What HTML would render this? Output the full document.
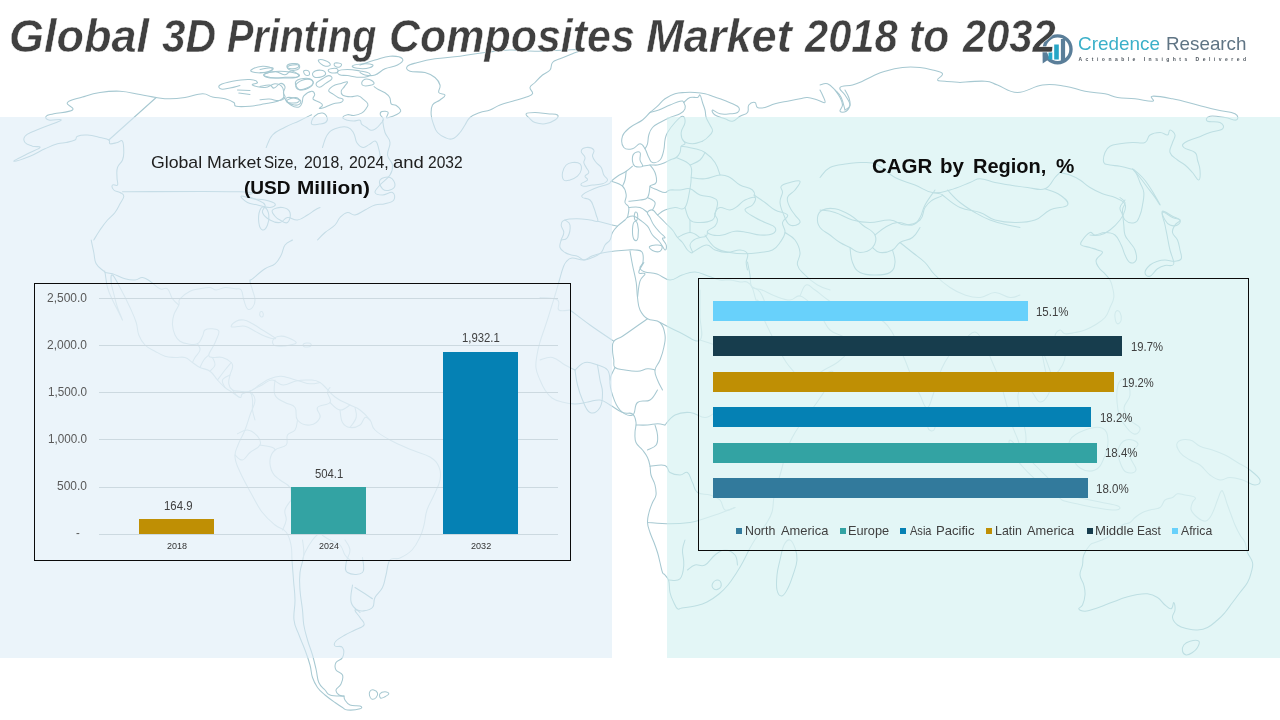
<!DOCTYPE html>
<html lang="en">
<head>
<meta charset="utf-8">
<title>Global 3D Printing Composites Market 2018 to 2032</title>
<style>
  html, body { margin: 0; padding: 0; }
  body {
    width: 1280px; height: 720px; overflow: hidden; position: relative;
    background: #ffffff;
    font-family: "Liberation Sans", sans-serif;
  }
  .abs { position: absolute; }
  .g { margin: 0; padding: 0; font: inherit; }
  .t { position: absolute; white-space: nowrap; line-height: 1; transform-origin: 0 0; display: block; }
  #panelL { left: 0; top: 117px; width: 612.3px; height: 541.3px; background: rgba(221,236,246,0.58); }
  #panelR { left: 667.2px; top: 117px; width: 613px; height: 541.3px; background: rgba(207,240,240,0.58); }
  #map { left: 0; top: 0; width: 1280px; height: 720px; }
  .ttl { -webkit-text-stroke: 0.5px #ffffff; }
  .box { border: 1.4px solid #0a0a0a; box-sizing: border-box; }
  #boxL { left: 33.8px; top: 282.6px; width: 537.2px; height: 278.2px; background: rgba(235,244,250,0.5); }
  #boxR { left: 697.8px; top: 277.8px; width: 551.2px; height: 272.8px; background: rgba(227,246,246,0.5); }
  .grid { position: absolute; left: 99px; width: 459px; height: 1px; background: #ccd9e0; }
  .bar { position: absolute; }
  .lm { position: absolute; width: 6px; height: 6px; top: 528px; }
</style>
</head>
<body>
  <svg id="map" class="abs" viewBox="0 0 1280 720" fill="none" stroke="#a6c8d1" stroke-width="1.05" stroke-linejoin="round" stroke-linecap="round">
    <path d="M93.8 240 C95.1 237.9 97.1 234.2 100 230 C102.9 225.8 104.3 223.7 107.5 220 C110.7 216.3 112.4 215.9 115 212.5 C117.6 209.1 118.2 207.2 120 203.8 C121.8 200.4 123.8 198.6 123.8 196.2 C123.8 193.8 122.1 193.8 120 192.5 C117.9 191.2 115.4 191.6 113.8 190 C112.2 188.4 111.7 186.1 112.5 185 C113.3 183.9 116.6 186.6 117.5 185 C118.4 183.4 117 181.2 117 177.5 C117 173.8 116.3 171.2 117.5 167.5 C118.7 163.8 121.2 163.2 122.5 160 C123.8 156.8 123.8 156.4 123.8 152.5 C123.8 148.6 123.8 143.3 122.5 141.2 C121.2 139.1 120.1 142 117.5 142.5 C114.9 143 111.8 144.3 110 143.8 C108.2 143.3 110.9 141.3 108.8 140 C106.7 138.7 104.5 138.6 100 137.5 C95.5 136.4 92.2 135.3 87.5 135 C82.8 134.7 80.1 135.1 77.5 136.2 C74.9 137.2 77.4 138.7 75 140 C72.6 141.3 69.9 141.7 66.2 142.5 C62.5 143.3 62 142.5 57.5 143.8 C53 145.1 50.8 146.2 45 148.8 C39.2 151.4 36.6 153.6 30 156.2 C23.4 158.8 14.3 161.7 13.8 161.2 C13.3 160.7 22 156.7 27.5 153.8 C33 150.9 39 149.1 40 147.5 C41 145.9 35.6 147.2 32.5 146.2 C29.4 145.1 26.6 144.6 25 142.5 C23.4 140.4 23.2 138.6 25 136.2 C26.8 133.8 29.3 133.3 33.8 131.2 C38.3 129.1 40.4 128.6 46.2 126.2 C52 123.8 60.7 121.3 61.2 120 C61.7 118.7 51.9 120.8 48.8 120 C45.6 119.2 45.2 117.5 46.2 116.2 C47.2 114.9 48.3 115.1 53.8 113.8 C59.3 112.5 69.6 112.4 72.5 110 C75.4 107.6 65.4 105.2 67.5 102.5 C69.6 99.8 75.7 99.1 82.5 97 C89.3 94.9 92.1 93.7 100 92.5 C107.9 91.3 111.6 90.8 120 91.2 C128.4 91.6 132.4 93.2 140 94.5 C147.6 95.8 149.9 96.6 156.2 97.5 C162.5 98.4 164 98.8 170 98.8 C176 98.8 178.2 98.5 185 97.5 C191.8 96.5 196.7 93.9 202.5 93.8 C208.3 93.7 207.8 96 212.5 97 C217.2 98 220.5 97.6 225 98.8 C229.5 100 231.4 100.9 233.8 102.5 C236.2 104.1 232.8 105.4 236.2 106.2 C239.6 107 244 106.7 250 106.2 C256 105.7 259.2 104.8 265 103.8 C270.8 102.8 273.6 102.5 277.5 101.2 C281.4 99.9 282.5 98.3 283.8 97.5"/>
    <path d="M156.2 97.5 L108.8 140"/>
    <path d="M122.5 191.8 C147.2 191.8 213.8 190.9 240 191.8 C266.2 192.7 243.8 194.5 247.5 196.2 C251.2 197.9 253.8 198.2 257.5 200 C261.2 201.8 263.9 202.4 265 205 C266.1 207.6 261.4 209.3 262.5 212.5 C263.6 215.7 266.3 217.9 270 220 C273.7 222.1 276.3 223 280 222.5 C283.7 222 283.8 218 287.5 217.5 C291.2 217 293.3 220.5 297.5 220 C301.7 219.5 303.8 217.1 307.5 215 C311.2 212.9 312.4 211.6 315 210 C317.6 208.4 318.9 208 320 207.5"/>
    <path d="M241.2 196.2 C242.2 195.4 247.5 198 252.5 198.8 C257.5 199.6 260.3 198.9 265 200 C269.7 201.1 273.9 202.2 275 203.8 C276.1 205.4 273.7 207.2 270 207.5 C266.3 207.8 262.2 206.1 257.5 205 C252.8 203.9 250.9 204.3 247.5 202.5 C244.1 200.7 240.1 197 241.2 196.2 Z"/>
    <path d="M260 210 C261.3 206.8 263.2 206.4 265 207.5 C266.8 208.6 268.3 211.3 268.8 215 C269.3 218.7 268.8 221.8 267.5 225 C266.2 228.2 264.3 230.5 262.5 230 C260.7 229.5 259.3 226.7 258.8 222.5 C258.3 218.3 258.7 213.2 260 210 Z"/>
    <path d="M272.5 210 C274.1 208.2 278.8 207 282.5 207.5 C286.2 208 288.9 209.3 290 212.5 C291.1 215.7 289.6 220.9 287.5 222.5 C285.4 224.1 282.6 221.3 280 220 C277.4 218.7 276.6 218.3 275 216.2 C273.4 214.1 270.9 211.8 272.5 210 Z"/>
    <path d="M251.2 70 C252.8 68.7 258 66.5 262.5 66.2 C267 65.9 272 67.5 272.5 68.8 C273 70.1 268.7 71.7 265 72.5 C261.3 73.3 257.9 73 255 72.5 C252.1 72 249.6 71.3 251.2 70 Z"/>
    <path d="M287.5 65 C289.1 63.7 295.1 63 297.5 63.8 C299.9 64.6 300.4 67.5 298.8 68.8 C297.2 70.1 292.4 70.8 290 70 C287.6 69.2 285.9 66.3 287.5 65 Z"/>
    <path d="M265 73.8 C267.6 72.5 273.2 71.2 280 71.2 C286.8 71.2 294.1 72.5 297.5 73.8 C300.9 75.1 299.9 76.6 296.2 77.5 C292.5 78.4 286 78 280 78 C274 78 270.6 78.4 267.5 77.5 C264.4 76.6 262.4 75.1 265 73.8 Z"/>
    <path d="M283.8 97.5 C283.5 95.4 284.3 90.4 282.5 87.5 C280.7 84.6 278.7 83.8 275 83.8 C271.3 83.8 269.7 87.2 265 87.5 C260.3 87.8 254.1 86 252.5 85 C250.9 84 258 83.7 257.5 82.5 C257 81.3 255.2 79.8 250 79.5 C244.8 79.2 238.8 80 232.5 81.2 C226.2 82.4 222.4 83.4 220 85 C217.6 86.6 219.1 88.4 221.2 89 C223.3 89.6 226.1 88.7 230 88 C233.9 87.3 237.9 86 240 85.5"/>
    <path d="M237.5 90 L250 90.5"/>
    <path d="M238.8 93 L250 94.5"/>
    <path d="M297.5 80 C300.4 78.4 306.9 77.8 310 78.8 C313.1 79.8 314.1 82.6 312.5 85 C310.9 87.4 305.9 89.7 302.5 90 C299.1 90.3 297.2 88.3 296.2 86.2 C295.1 84.1 294.6 81.6 297.5 80 Z"/>
    <path d="M287.5 97.5 C290.1 97 297.9 98.4 300 100 C302.1 101.6 300.1 104.5 297.5 105 C294.9 105.5 289.6 104.1 287.5 102.5 C285.4 100.9 284.9 98 287.5 97.5 Z"/>
    <path d="M91.2 240 C91.7 242.6 92.8 247.5 93.8 252.5 C94.8 257.5 94.1 259.9 96.2 263.8 C98.3 267.7 102 269.4 103.8 271.2 C105.6 273 104.2 269.1 105 272.5 C105.8 275.9 105.9 281.7 107.5 287.5 C109.1 293.3 110.1 294.8 112.5 300 C114.9 305.2 116.7 308.3 118.8 312.5 C120.9 316.7 122.8 321.1 122.5 320 C122.2 318.9 119.3 313 117.5 307.5 C115.7 302 115.1 299.1 113.8 293.8 C112.5 288.6 111.5 286.4 111.2 282.5 C110.9 278.6 110.7 273.9 112.5 275 C114.3 276.1 116.3 280.7 120 287.5 C123.7 294.3 126.6 300.1 130 307.5 C133.4 314.9 134.4 316.7 136.2 322.5 C138 328.3 137 330.3 138.8 335 C140.6 339.7 141.6 341.6 145 345 C148.4 348.4 150.8 348.8 155 351.2 C159.2 353.6 160.8 354.9 165 356.2 C169.2 357.5 170.8 357.2 175 357.5 C179.2 357.8 181.3 356.4 185 357.5 C188.7 358.6 189.3 360.4 192.5 362.5 C195.7 364.6 196.3 365.7 200 367.5 C203.7 369.3 206.3 368.6 210 371.2 C213.7 373.8 214.3 376.6 217.5 380 C220.7 383.4 221.8 384.9 225 387.5 C228.2 390.1 229.3 390.4 232.5 392.5 C235.7 394.6 237.9 397.2 240 397.5 C242.1 397.8 240.4 394.9 242.5 393.8 C244.6 392.8 247.9 391.2 250 392.5 C252.1 393.8 252 396.3 252.5 400 C253 403.7 252 405.8 252.5 410 C253 414.2 254.5 417.9 255 420"/>
    <path d="M105 272.5 C106.6 272.8 108.3 272.5 112.5 273.8 C116.7 275.1 120.3 277.5 125 278.8 C129.7 280.1 131.3 280.3 135 280 C138.7 279.7 139.3 277.2 142.5 277.5 C145.7 277.8 146.3 278.8 150 281.2 C153.7 283.6 156.3 287.2 160 288.8 C163.7 290.4 164.9 286.7 167.5 288.8 C170.1 290.9 170.1 295.4 172.5 298.8 C174.9 302.2 177.5 303.7 178.8 305"/>
    <path d="M292.5 240 C290.9 241.1 287.4 241.8 285 245 C282.6 248.2 283.3 251.1 281.2 255 C279.1 258.9 278.4 260.9 275 263.8 C271.6 266.7 269.7 265.7 265 268.8 C260.3 271.9 255.7 276.2 252.5 278.8 C249.3 281.4 250 278.8 250 281.2 C250 283.6 251.4 286.1 252.5 290 C253.6 293.9 255 296.3 255 300 C255 303.7 254.1 305.7 252.5 307.5 C250.9 309.3 249.3 310.4 247.5 308.8 C245.7 307.2 245.1 303.9 243.8 300 C242.5 296.1 243 292.4 241.2 290 C239.4 287.6 238.4 289.3 235 288.8 C231.6 288.3 228.9 287.2 225 287.5 C221.1 287.8 219.3 290 216.2 290 C213 290 213.4 287.8 210 287.5 C206.6 287.2 204.2 288 200 288.8 C195.8 289.6 194.2 289.1 190 291.2 C185.8 293.3 182.4 295.9 180 298.8 C177.6 301.7 180.1 301.6 178.8 305 C177.5 308.4 175.1 310.8 173.8 315 C172.5 319.2 172.2 320.8 172.5 325 C172.8 329.2 173.4 331.6 175 335 C176.6 338.4 177.4 339.4 180 341.2 C182.6 343 183.8 343.3 187.5 343.8 C191.2 344.3 194.3 345.4 197.5 343.8 C200.7 342.2 200.9 339.1 202.5 336.2 C204.1 333.3 202.9 331.6 205 330 C207.1 328.4 209.6 328.5 212.5 328.8 C215.4 329.1 218 328.8 218.8 331.2 C219.6 333.6 217.5 336.6 216.2 340 C214.9 343.4 214.1 344.4 212.5 347.5 C210.9 350.6 208.8 352.9 208.8 355 C208.8 357.1 209.6 357 212.5 357.5 C215.4 358 218.6 356.4 222.5 357.5 C226.4 358.6 229.1 360.4 231.2 362.5 C233.3 364.6 232.8 364.9 232.5 367.5 C232.2 370.1 230.8 371.6 230 375 C229.2 378.4 228.3 380.7 228.8 383.8 C229.3 386.9 230.1 388.4 232.5 390 C234.9 391.6 236.3 390.9 240 391.2 C243.7 391.5 245.8 392.6 250 391.2 C254.2 389.8 255.8 387.1 260 384.5 C264.2 381.9 265.8 380.5 270 378.8 C274.2 377.1 276.3 376.5 280 376.2 C283.7 375.9 283.3 376.4 287.5 377.5 C291.7 378.6 295.3 379.9 300 381.2 C304.7 382.5 305.8 383.5 310 383.8 C314.2 384.1 317.9 382.8 320 382.5"/>
    <path d="M231.2 326.2 C231.5 325 233.6 322.5 236.2 321.2 C238.8 319.9 240.4 319.5 243.8 320 C247.2 320.5 248.6 321.7 252.5 323.8 C256.4 325.9 258.3 327.4 262.5 330 C266.7 332.6 269.9 334.4 272.5 336.2 C275.1 338 276.6 338.8 275 338.8 C273.4 338.8 269.2 337.8 265 336.2 C260.8 334.6 259.2 333.3 255 331.2 C250.8 329.1 249.2 327.1 245 326.2 C240.8 325.3 237.9 327 235 327 C232.1 327 230.9 327.4 231.2 326.2 Z"/>
    <path d="M273.8 338.8 C275.1 337 277.1 336.5 280 336.2 C282.9 335.9 284.1 336.2 287.5 337.5 C290.9 338.8 295.7 340.9 296.2 342.5 C296.7 344.1 293.1 344.2 290 345 C286.9 345.8 284.6 346.2 281.2 346.2 C277.8 346.2 275.4 346.6 273.8 345 C272.2 343.4 272.5 340.6 273.8 338.8 Z"/>
    <path d="M303.8 343.8 C305 343 308.6 342.7 310 343.2 C311.4 343.7 311.7 345.4 310.5 346.2 C309.3 347 305.6 347.3 304.2 346.8 C302.8 346.3 302.6 344.6 303.8 343.8 Z"/>
    <path d="M260 312.5 C260.4 311.6 261.9 311.2 262.5 312 C263.1 312.8 263.4 315.3 263 316.2 C262.6 317.1 261.1 317.3 260.5 316.5 C259.9 315.7 259.6 313.4 260 312.5 Z"/>
    <path d="M197.5 343.8 C198 345.1 200.5 347.1 200 350 C199.5 352.9 196.6 354.9 195 357.5 C193.4 360.1 193 361.4 192.5 362.5"/>
    <path d="M208.8 355 C207.8 356.1 205.6 357.4 203.8 360 C202 362.6 200.8 365.9 200 367.5"/>
    <path d="M212.5 357.5 C213 359.1 215.5 362.1 215 365 C214.5 367.9 211.1 369.9 210 371.2"/>
    <path d="M231.2 362.5 C229.9 364.1 227.9 366.3 225 370 C222.1 373.7 219.1 377.9 217.5 380"/>
    <path d="M230 375 C228.4 376.1 223.6 377.4 222.5 380 C221.4 382.6 224.5 385.9 225 387.5"/>
    <path d="M232.5 390 C233.3 391.1 234.6 393.4 236.2 395 C237.8 396.6 239.2 397 240 397.5"/>
    <path d="M250 391 C252.5 389.7 257.4 387.3 262 385 C266.6 382.7 267.6 380 272 380 C276.4 380 278 384.8 283 385 C288 385.2 290.8 382.1 296 381 C301.2 379.9 303 379.7 308 380 C313 380.3 314.3 378.9 320 382.5 C325.7 386.1 328.7 392.3 335 397 C341.3 401.7 344.8 402.3 350 405 C355.2 407.7 355.8 406.9 360 410 C364.2 413.1 366.9 415.8 370 420 C373.1 424.2 370.8 425.8 375 430 C379.2 434.2 382.2 435.8 390 440 C397.8 444.2 403.6 446.4 412 450 C420.4 453.6 424.3 453.4 430 457 C435.7 460.6 436.9 462.2 439 467 C441.1 471.8 441.1 474.1 440 480 C438.9 485.9 436.7 488.7 434 495 C431.3 501.3 429.1 503.7 427 510 C424.9 516.3 425.5 519.3 424 525 C422.5 530.7 422.5 531.8 420 537 C417.5 542.2 416.2 545.6 412 550 C407.8 554.4 404.6 555.9 400 558 C395.4 560.1 392.9 556.4 390 560 C387.1 563.6 387.6 569.2 386 575 C384.4 580.8 384.8 582.8 382.5 587.5 C380.2 592.2 377.1 593.3 375 597.5 C372.9 601.7 375.1 604.7 372.5 607.5 C369.9 610.3 366.2 610.5 362.5 611 C358.8 611.5 355.5 608.6 355 610 C354.5 611.4 358.1 614.4 360 617.5 C361.9 620.6 365.1 622.4 364 625 C362.9 627.6 359 627.9 355 630 C351 632.1 349 632.7 345 635 C341 637.3 338.1 638.7 336 641 C333.9 643.3 333.6 644.6 335 646 C336.4 647.4 340.9 645.1 342.5 647.5 C344.1 649.9 343.9 654.4 342.5 657.5 C341.1 660.6 337.4 659.9 336 662.5 C334.6 665.1 334.6 667.4 336 670 C337.4 672.6 341.4 672.1 342.5 675 C343.6 677.9 342.4 680.9 341 684 C339.6 687.1 336.4 687.7 336 690 C335.6 692.3 337.3 693.7 339 695 C340.7 696.3 342.9 695.8 344 696"/>
    <path d="M250 391 C251.1 392.9 255 395 255 400 C255 405 252.1 408.7 250 415 C247.9 421.3 247.5 423.7 245 430 C242.5 436.3 240.1 439.3 238 445 C235.9 450.7 234.6 451.3 235 457 C235.4 462.7 236.4 464 240 472 C243.6 480 247.4 486.6 252 495 C256.6 503.4 257.2 505.7 262 512 C266.8 518.3 270 520.8 275 525 C280 529.2 282.6 527.8 286 532 C289.4 536.2 289.7 539.1 291 545 C292.3 550.9 291.5 552.6 292 560 C292.5 567.4 292.9 571.6 293.5 580 C294.1 588.4 294.9 591.6 295 600 C295.1 608.4 293.2 612.6 294 620 C294.8 627.4 296.7 628.7 299 635 C301.3 641.3 302.7 643.7 305 650 C307.3 656.3 308.4 659.2 310 665 C311.6 670.8 310.9 672.8 312.5 677.5 C314.1 682.2 314.9 683.8 317.5 687.5 C320.1 691.2 321.3 691.9 325 695 C328.7 698.1 331.3 699.9 335 702.5 C338.7 705.1 339.9 705.9 342.5 707.5 C345.1 709.1 343.8 709.7 347.5 710 C351.2 710.3 357.4 709.6 360 708.8 C362.6 708 362.1 706.8 360 706 C357.9 705.2 353.1 706.3 350 705 C346.9 703.7 346.3 701.9 345 700 C343.7 698.1 344.2 696.8 344 696"/>
    <path d="M302.5 540 C302.8 543.1 304.3 548.2 303.8 555 C303.3 561.8 300.8 565.1 300 572.5 C299.2 579.9 299.5 582.1 300 590 C300.5 597.9 301.7 602.6 302.5 610 C303.3 617.4 302.8 618.7 303.8 625 C304.9 631.3 305.7 633.7 307.5 640 C309.3 646.3 310.7 648.7 312.5 655 C314.3 661.3 314.9 664.2 316.2 670 C317.5 675.8 317 678.3 318.8 682.5 C320.6 686.7 322.6 687.4 325 690 C327.4 692.6 326.1 693.7 330 695 C333.9 696.3 340.9 695.9 343.8 696.2"/>
    <path d="M362.5 557.5 C362.5 560.6 365.6 569.4 362.5 572.5 C359.4 575.6 350.9 574.6 347.5 572.5 C344.1 570.4 345.7 567.2 346.2 562.5 C346.7 557.8 350.3 554.7 350 550 C349.7 545.3 346.1 542.1 345 540"/>
    <path d="M352.5 585 C352.2 588.7 349.6 596.7 351.2 602.5 C352.8 608.3 358.2 610.4 360 612.5"/>
    <path d="M355 587.5 C357.1 588.8 361.3 591.4 365 593.8 C368.7 596.2 370.9 597.8 372.5 598.8"/>
    <path d="M370 691.2 C370.9 690 372.2 689.6 373.8 690 C375.4 690.4 377 691.4 377.5 693 C378 694.6 377.4 696.2 376.2 697.5 C375 698.8 373.4 699.6 372 699.2 C370.6 698.8 369.9 697.2 369.5 695.5 C369.1 693.8 369.1 692.4 370 691.2 Z"/>
    <path d="M380 693.8 C380.9 692.5 383.2 691.8 385 691.8 C386.8 691.8 388.9 692.7 388.8 693.8 C388.7 694.9 386.2 696.1 384.5 697 C382.8 697.9 381.4 698.7 380.5 698 C379.6 697.3 379.1 695.1 380 693.8 Z"/>
    <path d="M275 380 C275 383.1 272.9 390.3 275 395 C277.1 399.7 280.8 399.9 285 402.5 C289.2 405.1 292.4 403.8 295 407.5 C297.6 411.2 294.4 416.3 297.5 420 C300.6 423.7 305.3 425.5 310 425 C314.7 424.5 318.4 421.2 320 417.5 C321.6 413.8 315.4 410.6 317.5 407.5 C319.6 404.4 327.9 405.6 330 402.5 C332.1 399.4 327.5 395.6 327.5 392.5 C327.5 389.4 329.5 388.6 330 387.5"/>
    <path d="M330 402.5 C332.1 404.1 335.8 409.5 340 410 C344.2 410.5 347.9 406.1 350 405"/>
    <path d="M340 410 C340.5 412.6 340.4 418.8 342.5 422.5 C344.6 426.2 346.3 427 350 427.5 C353.7 428 356.9 427.1 360 425 C363.1 422.9 362.9 418.6 365 417.5 C367.1 416.4 368.9 419.5 370 420"/>
    <path d="M355 407.5 C355.3 409.6 357.2 413.3 356.2 417.5 C355.1 421.7 351.3 425.4 350 427.5"/>
    <path d="M297.5 420 C297 422.1 297.1 426.9 295 430 C292.9 433.1 289.3 431.9 287.5 435 C285.7 438.1 288.8 441.9 286.2 445 C283.6 448.1 278.4 446.9 275 450 C271.6 453.1 270.5 455.3 270 460 C269.5 464.7 270.4 468.3 272.5 472.5 C274.6 476.7 276.3 476.9 280 480 C283.7 483.1 287.6 483.3 290 487.5 C292.4 491.7 290.9 497.4 291.2 500"/>
    <path d="M237.5 433.8 C239.6 433 243.3 429.5 247.5 430 C251.7 430.5 254.9 433.1 257.5 436.2 C260.1 439.3 261.6 441.6 260 445 C258.4 448.4 253.7 449.4 250 452.5 C246.3 455.6 245.7 459.5 242.5 460 C239.3 460.5 236.6 456.1 235 455"/>
    <path d="M260 445 C262.6 445.5 269.4 446.4 272.5 447.5 C275.6 448.6 274.5 449.5 275 450"/>
    <path d="M291.2 500 C293 501.1 296.1 502.9 300 505 C303.9 507.1 306.3 506.9 310 510 C313.7 513.1 315.4 515.3 317.5 520 C319.6 524.7 317.4 528.3 320 532.5 C322.6 536.7 325.8 537.4 330 540 C334.2 542.6 336.9 541.9 340 545 C343.1 548.1 342.9 551.9 345 555 C347.1 558.1 348.9 559 350 560"/>
    <path d="M282.5 530 C283.3 527.9 285.7 524.2 286.2 520 C286.7 515.8 283.9 514.2 285 510 C286.1 505.8 289.9 502.1 291.2 500"/>
    <path d="M320 532.5 C318.4 534.1 315.6 535.8 312.5 540 C309.4 544.2 307.1 548.3 305 552.5 C302.9 556.7 303 558.4 302.5 560"/>
    <path d="M407.5 66.2 C405.9 68 406.3 69.9 410 71.2 C413.7 72.5 419.8 71.2 425 72.5 C430.2 73.8 431.9 74.9 435 77.5 C438.1 80.1 439.2 81.8 440 85 C440.8 88.2 437.8 90.4 438.8 92.5 C439.9 94.6 444.7 93.4 445 95 C445.3 96.6 442.6 97.9 440 100 C437.4 102.1 434.3 101.8 432.5 105 C430.7 108.2 430.9 110.8 431.2 115 C431.5 119.2 432.5 121.3 433.8 125 C435.1 128.7 435.1 129.9 437.5 132.5 C439.9 135.1 441.9 136.2 445 137.5 C448.1 138.8 449.4 139.9 452.5 138.8 C455.6 137.8 457.4 135.4 460 132.5 C462.6 129.6 462.9 128.2 465 125 C467.1 121.8 466.9 120.1 470 117.5 C473.1 114.9 475.8 114.1 480 112.5 C484.2 110.9 485.8 111.6 490 110 C494.2 108.4 495.3 106.8 500 105 C504.7 103.2 507.2 102.8 512.5 101.2 C517.8 99.6 520.8 99.1 525 97.5 C529.2 95.9 531.5 95.9 532.5 93.8 C533.5 91.7 529.5 89.9 530 87.5 C530.5 85.1 532.4 85.1 535 82.5 C537.6 79.9 539.4 77.6 542.5 75 C545.6 72.4 547.9 72.6 550 70 C552.1 67.4 550.4 64.9 552.5 62.5 C554.6 60.1 555.8 60.6 560 58.8 C564.2 57 568.3 55.6 572.5 53.8 C576.7 52 581.6 50.8 580 50 C578.4 49.2 574.5 49.7 565 50 C555.5 50.3 546.5 51.2 535 51.2 C523.5 51.2 520.5 49.7 510 50 C499.5 50.3 495.5 51.2 485 52.5 C474.5 53.8 470.5 54.9 460 56.2 C449.5 57.5 443.9 57.5 435 58.8 C426.1 60.1 423.3 60.9 417.5 62.5 C411.7 64.1 409.1 64.4 407.5 66.2 Z"/>
    <path d="M526.2 113.8 C527.2 112.5 530.5 112.5 535 112.5 C539.5 112.5 542.8 113.3 547.5 113.8 C552.2 114.3 555.9 113.7 557.5 115 C559.1 116.3 557.6 118.2 555 120 C552.4 121.8 549.2 123.3 545 123.8 C540.8 124.3 538.1 123.5 535 122.5 C531.9 121.5 531.8 120.6 530 118.8 C528.2 117 525.2 115.1 526.2 113.8 Z"/>
    <path d="M360 65 C363.1 64 368.7 61.8 375 60 C381.3 58.2 384.2 56.5 390 56.2 C395.8 55.9 400.9 57 402.5 58.8 C404.1 60.6 401.2 62.9 397.5 65 C393.8 67.1 389.7 66.7 385 68.8 C380.3 70.9 379.2 73.7 375 75 C370.8 76.3 368.1 75.5 365 75 C361.9 74.5 361.1 73 360 72.5"/>
    <path d="M260 69.4 C262.6 69.1 270.5 67.3 272.5 67.8 C274.5 68.3 272 70.7 269.4 71.7 C266.8 72.7 262 72.3 260 72.5"/>
    <path d="M288.1 66.2 C289.7 65.4 295.5 64.4 297.5 64.7 C299.5 65 299.1 67 297.5 67.8 C295.9 68.6 291.7 68.9 289.7 68.6 C287.7 68.3 286.5 67 288.1 66.2 Z"/>
    <path d="M264.7 74.1 C266.7 73.1 271.3 71.6 275.6 71.7 C279.9 71.8 281.7 75 285 74.8 C288.3 74.6 288.4 70.9 291.2 70.9 C294 70.9 297.3 73.5 298.3 74.8 C299.3 76.1 298.7 76.7 295.9 77.2 C293.1 77.7 289.3 77 285 77.2 C280.7 77.4 279.5 78.2 275.6 78 C271.7 77.8 268.5 77.2 266.2 76.4 C263.9 75.6 262.7 75.1 264.7 74.1 Z"/>
    <path d="M260 86.6 C262 86.3 266.4 84.7 269.4 85 C272.4 85.3 271.8 88.4 274.1 88.1 C276.4 87.8 278 83.7 280.3 83.4 C282.6 83.1 284.3 84.6 285 86.6 C285.7 88.6 283.4 90.5 283.4 92.8 C283.4 95.1 286 95.9 285 97.5 C284 99.1 282.1 100.3 278.8 100.6 C275.5 100.9 273.3 99.3 269.4 99.1 C265.5 98.9 262 99.7 260 99.8"/>
    <path d="M286.6 100.6 C287.6 99.4 293.3 97.3 295.9 97.5 C298.5 97.7 300.1 100.2 299.1 101.4 C298.1 102.6 293.8 103.2 291.2 103 C288.6 102.8 285.6 101.8 286.6 100.6 Z"/>
    <path d="M303.8 70.9 C304.5 70.1 307.3 70.1 308.4 70.9 C309.5 71.7 309.9 74 309.2 74.8 C308.5 75.6 306.4 75.6 305.3 74.8 C304.2 74 303.1 71.7 303.8 70.9 Z"/>
    <path d="M313.1 72.5 C314.4 71 318.3 70 320.9 70.2 C323.5 70.4 325.3 72 325.6 73.3 C325.9 74.6 324.8 75.6 322.5 76.4 C320.2 77.2 316.7 78 314.7 77.2 C312.7 76.4 311.8 74 313.1 72.5 Z"/>
    <path d="M328.8 69.4 C330.1 68.6 334.8 67.9 336.6 68.6 C338.4 69.3 338.6 71.7 337.3 72.5 C336 73.3 332.1 73.2 330.3 72.5 C328.5 71.8 327.5 70.2 328.8 69.4 Z"/>
    <path d="M318.6 60 C319.6 59.3 323.1 59.8 325.6 60.8 C328.1 61.8 330.3 63.6 330.3 64.7 C330.3 65.8 327.6 66.4 325.6 66.2 C323.6 66 322.4 65.2 320.9 63.9 C319.4 62.6 317.6 60.7 318.6 60 Z"/>
    <path d="M335 63.1 C336.3 62.6 340.2 63.1 341.2 63.9 C342.2 64.7 341 66.5 339.7 67 C338.4 67.5 336 67 335 66.2 C334 65.4 333.7 63.6 335 63.1 Z"/>
    <path d="M295.9 85 C296.6 83 299.2 81.5 302.2 80.3 C305.2 79.1 307.7 78.8 310 79.5 C312.3 80.2 313.8 81.6 313.1 83.4 C312.4 85.2 309.8 86.8 306.9 88.1 C304 89.4 301.4 90.4 299.1 89.7 C296.8 89 295.2 87 295.9 85 Z"/>
    <path d="M316.2 83.4 C316.9 81.6 319.9 80.4 322.5 78.8 C325.1 77.2 326.8 75.6 328.8 75.6 C330.8 75.6 332.6 77.2 331.9 78.8 C331.2 80.4 328.2 81.6 325.6 83.4 C323 85.2 321.4 87.3 319.4 87.3 C317.4 87.3 315.5 85.2 316.2 83.4 Z"/>
    <path d="M338.1 70.9 C339.7 69.8 342.9 69.4 347.5 69.4 C352.1 69.4 355.4 70.1 360 70.9 C364.6 71.7 367.8 72.1 369.4 73.3 C371 74.5 370.4 75.6 367.8 76.4 C365.2 77.2 361.2 77.4 356.9 77.2 C352.6 77 351.1 76.1 347.5 75.6 C343.9 75.1 341.7 75.8 339.7 74.8 C337.7 73.8 336.5 72 338.1 70.9 Z"/>
    <path d="M352.2 66.2 C352.5 65.2 357.3 64.2 361.6 63.9 C365.9 63.6 370.9 63.9 372.5 64.7 C374.1 65.5 372 67 369.4 67.8 C366.8 68.6 363.6 68.9 360 68.6 C356.4 68.3 351.9 67.2 352.2 66.2 Z"/>
    <path d="M363.1 80.3 C364.6 79.1 367.1 78.8 369.4 79.5 C371.7 80.2 374.4 82.1 374.1 83.4 C373.8 84.7 370.3 85.5 367.8 85.8 C365.3 86.1 363.3 86.2 362.3 85 C361.3 83.8 361.6 81.5 363.1 80.3 Z"/>
    <path d="M283.8 97.5 C285.4 99.1 288 103.3 291.2 105.3 C294.4 107.3 296.8 107.6 299.1 106.9 C301.4 106.2 301.2 104.5 302.2 102.2 C303.2 99.9 301.8 98.2 303.8 95.9 C305.8 93.6 309.3 91.5 311.6 91.2 C313.9 90.9 314.4 92.7 314.7 94.4 C315 96.1 312.1 97.5 313.1 99.1 C314.1 100.7 317.4 100.9 319.4 102.2 C321.4 103.5 322.5 104 322.5 105.3 C322.5 106.6 318.7 108.1 319.4 108.4 C320.1 108.7 322.7 107.9 325.6 106.9 C328.5 105.9 330.1 104.8 333.4 103.8 C336.7 102.8 339.2 103.2 341.2 102.2 C343.2 101.2 343.5 100.1 342.8 99.1 C342.1 98.1 340.1 98.5 338.1 97.5 C336.1 96.5 335.4 95.7 333.4 94.4 C331.4 93.1 329.5 92.5 328.8 91.2 C328.1 89.9 329 89.4 330.3 88.1 C331.6 86.8 332.7 86 335 85 C337.3 84 338.6 84.1 341.2 83.4 C343.8 82.7 346.8 81.2 347.5 81.9 C348.2 82.6 345.7 84.6 344.4 86.6 C343.1 88.6 341.5 89.4 341.2 91.2 C340.9 93 340.8 94 342.8 95.2 C344.8 96.4 347.3 96.6 350.6 96.7 C353.9 96.8 355.8 95.4 358.4 95.9 C361 96.4 361.1 97.4 363.1 99.1 C365.1 100.8 367.1 101.8 367.8 103.8 C368.5 105.8 367.5 106.4 366.2 108.4 C364.9 110.4 364.2 111.6 361.6 113.1 C359 114.6 356.8 115.2 353.8 115.5 C350.8 115.8 349.8 114.2 347.5 114.7 C345.2 115.2 342.8 116.6 342.8 117.8 C342.8 119 345.2 119.5 347.5 120.2 C349.8 120.9 351.2 120.9 353.8 120.9 C356.4 120.9 358.4 119.5 360 120.2 C361.6 120.9 360.3 122.6 361.6 124.1 C362.9 125.6 364.2 125.9 366.2 127.2 C368.2 128.5 368.9 130 370.9 130.3 C372.9 130.6 373.6 130.1 375.6 128.8 C377.6 127.5 378.7 126.1 380.3 124.1 C381.9 122.1 383.4 121.4 383.4 119.4 C383.4 117.4 380.6 116.3 380.3 114.7 C380 113.1 380.3 112.1 381.9 111.6 C383.5 111.1 387.1 111 388.1 112.3 C389.1 113.6 385.6 117 386.6 117.8 C387.6 118.6 390.2 117.2 392.8 116.2 C395.4 115.2 397.5 114.4 399.1 113.1 C400.7 111.8 401.3 111.6 400.6 110 C399.9 108.4 397.9 106.6 395.9 105.3 C393.9 104 392.5 105.4 391.2 103.8 C389.9 102.2 391 99.8 389.7 97.5 C388.4 95.2 387.3 94.4 385 92.8 C382.7 91.2 381.1 91 378.8 89.7 C376.5 88.4 375.1 87.3 374.1 86.6"/>
    <path d="M311.6 124.1 C310.6 122.4 312.4 118.5 314.7 116.2 C317 113.9 319.9 112.8 322.5 113.1 C325.1 113.4 326.5 115.8 327.2 117.8 C327.9 119.8 327.2 121.2 325.6 122.5 C324 123.8 322.3 123.8 319.4 124.1 C316.5 124.4 312.6 125.8 311.6 124.1 Z"/>
    <path d="M266.2 147.5 C267.5 144.9 268.6 139.3 272.5 135 C276.4 130.7 279.4 130.2 285 127.2 C290.6 124.2 293.5 123.5 299.1 120.9 C304.7 118.3 309 116 311.6 114.7"/>
    <path d="M322.5 147.5 C323.5 144.9 324.6 138.9 327.2 135 C329.8 131.1 330.7 130.4 335 128.8 C339.3 127.2 343.6 126.2 347.5 127.2 C351.4 128.2 351.8 130.1 353.8 133.4 C355.8 136.7 354.9 139.8 356.9 142.8 C358.9 145.8 360.5 147.2 363.1 147.5 C365.7 147.8 366.8 145.7 369.4 144.4 C372 143.1 373.6 140.2 375.6 141.2 C377.6 142.2 377.8 145.8 378.8 149.1 C379.8 152.4 380 155.3 380.3 156.9"/>
    <path d="M382.5 120 C383 122.6 383.4 127.8 385 132.5 C386.6 137.2 389.5 137.8 390 142.5 C390.5 147.2 387 150.3 387.5 155 C388 159.7 392 160.8 392.5 165 C393 169.2 392.6 170.8 390 175 C387.4 179.2 383.1 181.3 380 185 C376.9 188.7 374.5 190.4 375 192.5 C375.5 194.6 378.8 195 382.5 195 C386.2 195 390.1 191.4 392.5 192.5 C394.9 193.6 395.4 197.6 393.8 200 C392.2 202.4 388.9 202.8 385 203.8 C381.1 204.9 379.2 203.7 375 205 C370.8 206.3 369.2 207.9 365 210 C360.8 212.1 358.7 214.5 355 215 C351.3 215.5 350.6 212 347.5 212.5 C344.4 213 342.6 214.9 340 217.5 C337.4 220.1 338.1 221.8 335 225 C331.9 228.2 328.7 229.3 325 232.5 C321.3 235.7 319.1 238.4 317.5 240"/>
    <path d="M380 180 C381.6 177.6 386.9 176.4 390 177.5 C393.1 178.6 395 182.4 395 185 C395 187.6 392.6 189.2 390 190 C387.4 190.8 384.6 190.9 382.5 188.8 C380.4 186.7 378.4 182.4 380 180 Z"/>
    <path d="M702.5 141.2 C700.4 141.7 696.4 143.8 692.5 143.8 C688.6 143.8 686.2 143.6 683.8 141.2 C681.4 138.8 680.9 136.4 681.2 132.5 C681.5 128.6 684.7 125.9 685 122.5 C685.3 119.1 684.6 116.2 682.5 116.2 C680.4 116.2 678.1 119.1 675 122.5 C671.9 125.9 669.6 128.8 667.5 132.5 C665.4 136.2 665.8 136.3 665 140 C664.2 143.7 664.8 145.8 663.8 150 C662.8 154.2 662.4 157.4 660 160 C657.6 162.6 654.9 163 652.5 162.5 C650.1 162 650.4 160.4 648.8 157.5 C647.2 154.6 646.8 151.7 645 148.8 C643.2 145.9 642.6 143.8 640 143.8 C637.4 143.8 635.9 148 632.5 148.8 C629.1 149.6 625.9 150.1 623.8 147.5 C621.7 144.9 621.2 140.4 622.5 136.2 C623.8 132 625.8 130.9 630 127.5 C634.2 124.1 638.3 123.2 642.5 120 C646.7 116.8 646.9 115.4 650 112.5 C653.1 109.6 654.4 109.1 657.5 106.2 C660.6 103.3 661.3 101.4 665 98.8 C668.7 96.2 670.8 95.1 675 93.8 C679.2 92.5 680.8 92.8 685 92.5 C689.2 92.2 690.8 92.2 695 92.5 C699.2 92.8 701.3 93 705 93.8 C708.7 94.6 709.4 95.2 712.5 96.2 C715.6 97.2 715.8 97.2 720 98.8 C724.2 100.4 728.6 102 732.5 103.8 C736.4 105.6 737.8 105.7 738.8 107.5 C739.8 109.3 739.3 111.2 737.5 112.5 C735.7 113.8 733.7 113.5 730 113.8 C726.3 114.1 723.7 114.6 720 113.8 C716.3 113 713.5 109.7 712.5 110 C711.5 110.3 712.4 113.2 715 115 C717.6 116.8 721.3 117.5 725 118.8 C728.7 120.1 729.4 121.7 732.5 121.2 C735.6 120.7 736.9 118 740 116.2 C743.1 114.4 745.7 114.9 747.5 112.5 C749.3 110.1 747.2 107.1 748.8 105 C750.4 102.9 753.2 102 755 102.5 C756.8 103 755.4 106.5 757.5 107.5 C759.6 108.5 761.3 108.3 765 107.5 C768.7 106.7 770.3 105.1 775 103.8 C779.7 102.5 782.2 102.2 787.5 101.2 C792.8 100.2 795.8 99.6 800 98.8 C804.2 98 803.8 97.2 807.5 97.5 C811.2 97.8 813.8 99 817.5 100 C821.2 101 824 103.5 825 102.5 C826 101.5 823.5 97.6 822.5 95 C821.5 92.4 820.5 91 820 90"/>
    <path d="M835 90 C836 91.6 838.4 94.3 840 97.5 C841.6 100.7 842.5 102.1 842.5 105 C842.5 107.9 839.2 109.9 840 111.2 C840.8 112.5 844.1 112.5 846.2 111.2 C848.3 109.9 849.5 107.9 850 105 C850.5 102.1 849.8 100.7 848.8 97.5 C847.8 94.3 845.8 91.6 845 90"/>
    <path d="M650 112.5 C651.8 112 654.6 111.6 658.8 110 C663 108.4 665.5 106.8 670 105 C674.5 103.2 677.1 101.7 680 101.2 C682.9 100.7 682.8 100.9 683.8 102.5 C684.8 104.1 685.8 106.4 685 108.8 C684.2 111.2 683.1 112 680 113.8 C676.9 115.6 674.2 115.7 670 117.5 C665.8 119.3 663.7 120.4 660 122.5 C656.3 124.6 654.9 124.9 652.5 127.5 C650.1 130.1 649.8 131.6 648.8 135 C647.8 138.4 648.3 140.9 647.5 143.8 C646.7 146.7 645.5 147.8 645 148.8"/>
    <path d="M683.8 102.5 C685.1 101.5 687.1 98.5 690 97.5 C692.9 96.5 695.4 98 697.5 97.5 C699.6 97 699 94 700 95 C701 96 701.5 99.3 702.5 102.5 C703.5 105.7 704.2 106.8 705 110 C705.8 113.2 705.2 114.3 706.2 117.5 C707.2 120.7 708.7 122.1 710 125 C711.3 127.9 713 128.6 712.5 131.2 C712 133.8 709.6 135.4 707.5 137.5 C705.4 139.6 703.5 140.4 702.5 141.2"/>
    <path d="M581.2 151.2 C581.5 149.1 583.6 147.8 586.2 147.5 C588.8 147.2 592.5 148.2 593.8 150 C595.1 151.8 592 153.6 592.5 156.2 C593 158.8 594.4 160.1 596.2 162.5 C598 164.9 599.6 164.9 601.2 167.5 C602.8 170.1 602.5 172.4 603.8 175 C605.1 177.6 607.8 178.2 607.5 180 C607.2 181.8 605.6 182.8 602.5 183.8 C599.4 184.9 596.4 184.5 592.5 185 C588.6 185.5 586.2 186.5 583.8 186.2 C581.4 185.9 580.4 185.1 581.2 183.8 C582 182.5 586.7 181.6 587.5 180 C588.3 178.4 584.7 177.8 585 176.2 C585.3 174.6 588.5 174.3 588.8 172.5 C589.1 170.7 587.2 169.6 586.2 167.5 C585.2 165.4 584.1 164.6 583.8 162.5 C583.5 160.4 585.5 159.9 585 157.5 C584.5 155.1 580.9 153.3 581.2 151.2 Z"/>
    <path d="M562.5 172.5 C563 169.3 564.1 167.1 566.2 165 C568.3 162.9 569.6 162.8 572.5 162.5 C575.4 162.2 578.2 162.2 580 163.8 C581.8 165.4 581.7 167.4 581.2 170 C580.7 172.6 579.9 174.1 577.5 176.2 C575.1 178.3 572.9 179.2 570 180 C567.1 180.8 565.4 181.6 563.8 180 C562.2 178.4 562 175.7 562.5 172.5 Z"/>
    <path d="M633.8 153.8 C632.2 155.6 632.2 158.6 632.5 161.2 C632.8 163.8 632.9 165.1 635 166.2 C637.1 167.2 641.5 167.5 642.5 166.2 C643.5 164.9 640.5 162.9 640 160 C639.5 157.1 641.3 153.8 640 152.5 C638.7 151.2 635.4 152 633.8 153.8 Z"/>
    <path d="M632.5 166.2 C631.2 167.2 629.4 169.1 626.2 171.2 C623.1 173.3 620.6 174.1 617.5 176.2 C614.4 178.3 613 179.6 611.2 181.2 C609.4 182.8 610.9 182.8 608.8 183.8 C606.7 184.9 604.4 185.1 601.2 186.2 C598.1 187.2 597.5 187.2 593.8 188.8 C590.1 190.4 586.2 192 583.8 193.8 C581.4 195.6 581.2 196.2 582.5 197.5 C583.8 198.8 587.6 197.9 590 200 C592.4 202.1 592.5 204.3 593.8 207.5 C595.1 210.7 595.4 212.1 596.2 215 C597 217.9 598.8 220.1 597.5 221.2 C596.2 222.2 594.2 220.5 590 220 C585.8 219.5 582.8 218.8 577.5 218.8 C572.2 218.8 568.4 218.7 565 220 C561.6 221.3 561.5 222.4 561.2 225 C560.9 227.6 563.8 229.3 563.8 232.5 C563.8 235.7 562 236.8 561.2 240 C560.4 243.2 559.2 244.9 560 247.5 C560.8 250.1 562.6 250.9 565 252.5 C567.4 254.1 568.6 254.2 571.2 255 C573.8 255.8 574.9 255.1 577.5 256.2 C580.1 257.2 580.6 259.7 583.8 260 C586.9 260.3 588.8 259.1 592.5 257.5 C596.2 255.9 598.6 255.1 601.2 252.5 C603.8 249.9 603.2 247.6 605 245 C606.8 242.4 608.4 242.6 610 240 C611.6 237.4 610.9 235.4 612.5 232.5 C614.1 229.6 614.9 228.8 617.5 226.2 C620.1 223.6 622.9 221.8 625 220 C627.1 218.2 625.7 218.3 627.5 217.5 C629.3 216.7 631.2 215.7 633.8 216.2 C636.4 216.7 637.1 217.9 640 220 C642.9 222.1 644.9 223 647.5 226.2 C650.1 229.3 649.9 231.6 652.5 235 C655.1 238.4 657.4 239.3 660 242.5 C662.6 245.7 663.7 249.5 665 250 C666.3 250.5 666.7 247.4 666.2 245 C665.7 242.6 662.8 240.4 662.5 238.8 C662.2 237.2 665.5 238.8 665 237.5 C664.5 236.2 662.4 235.1 660 232.5 C657.6 229.9 655.9 228.2 653.8 225 C651.7 221.8 651.3 220.1 650 217.5 C648.7 214.9 647 214.1 647.5 212.5 C648 210.9 650.4 209.5 652.5 210 C654.6 210.5 654.9 212.4 657.5 215 C660.1 217.6 661.9 219.3 665 222.5 C668.1 225.7 669.9 226.8 672.5 230 C675.1 233.2 675.4 234.9 677.5 237.5 C679.6 240.1 680.4 239.9 682.5 242.5 C684.6 245.1 685.4 247.9 687.5 250 C689.6 252.1 692 253.6 692.5 252.5 C693 251.4 689.7 247.6 690 245 C690.3 242.4 691.7 241.6 693.8 240 C695.9 238.4 697.4 238.3 700 237.5 C702.6 236.7 704.6 237.5 706.2 236.2 C707.8 234.9 707.2 232.2 707.5 231.2"/>
    <path d="M642.5 166.2 C644.1 165.9 646.9 165.3 650 165 C653.1 164.7 654.4 165.5 657.5 165 C660.6 164.5 662.4 163.6 665 162.5 C667.6 161.4 667.6 161.1 670 160 C672.4 158.9 674.1 159.1 676.2 157.5 C678.3 155.9 679 154.9 680 152.5 C681 150.1 680.2 148 681.2 146.2 C682.2 144.4 684.5 144.9 685 143.8 C685.5 142.8 684.1 141.7 683.8 141.2"/>
    <path d="M707.5 231.2 C708 229.4 712.9 228.6 715 226.2 C717.1 223.8 717.5 222.6 717.5 220 C717.5 217.4 714.5 216.4 715 213.8 C715.5 211.2 716.9 208.3 720 207.5 C723.1 206.7 726.3 210.3 730 210 C733.7 209.7 734.4 208.3 737.5 206.2 C740.6 204.1 741.3 201.8 745 200 C748.7 198.2 753.4 196.4 755 197.5 C756.6 198.6 754.6 202.4 752.5 205 C750.4 207.6 744.5 207.4 745 210 C745.5 212.6 750.8 214.9 755 217.5 C759.2 220.1 760.8 220.4 765 222.5 C769.2 224.6 773.4 225.1 775 227.5 C776.6 229.9 775.6 232.2 772.5 233.8 C769.4 235.4 765.2 235.3 760 235 C754.8 234.7 752.8 233.3 747.5 232.5 C742.2 231.7 740.2 230.7 735 231.2 C729.8 231.7 727.2 234.2 722.5 235 C717.8 235.8 715.6 235.8 712.5 235 C709.4 234.2 707 233 707.5 231.2 Z"/>
    <path d="M633.8 222.5 C634.8 220.7 636.6 220.7 637.5 223.8 C638.4 227 638.6 234.1 638 237.5 C637.4 240.9 635.7 241.1 634.5 240 C633.3 238.9 632.6 236.2 632.5 232.5 C632.4 228.8 632.8 224.3 633.8 222.5 Z"/>
    <path d="M635 212.5 C635.6 211.4 637.1 212.2 637.5 213.8 C637.9 215.4 637.6 218.9 637 220 C636.4 221.1 634.9 220.4 634.5 218.8 C634.1 217.2 634.4 213.6 635 212.5 Z"/>
    <path d="M650 246.2 C651.8 245.1 659.1 244.4 661.2 245.5 C663.3 246.6 661.8 250.1 660 251.2 C658.2 252.2 654.6 251.6 652.5 250.5 C650.4 249.4 648.2 247.2 650 246.2 Z"/>
    <path d="M692.5 252.5 C695.4 250.9 701.5 245.5 706.2 245 C710.9 244.5 710.5 248.4 715 250 C719.5 251.6 722.2 252.5 727.5 252.5 C732.8 252.5 735.8 249.7 740 250 C744.2 250.3 746.2 251.2 747.5 253.8 C748.8 256.4 746.2 259.1 746.2 262.5 C746.2 265.9 747.2 268.4 747.5 270"/>
    <path d="M781.2 186.2 C782.8 184.1 786.1 183.6 790 182.5 C793.9 181.4 799 179.6 800 181.2 C801 182.8 797.6 186.6 795 190 C792.4 193.4 788.5 193.8 787.5 197.5 C786.5 201.2 788.4 203.8 790 207.5 C791.6 211.2 792.9 211.8 795 215 C797.1 218.2 801 220.4 800 222.5 C799 224.6 793.4 226.6 790 225 C786.6 223.4 785.9 219.7 783.8 215 C781.7 210.3 780.3 207.2 780 202.5 C779.7 197.8 782.2 195.9 782.5 192.5 C782.8 189.1 779.6 188.3 781.2 186.2 Z"/>
    <path d="M611.2 181.2 C613.6 182.2 619.4 183.3 622.5 186.2 C625.6 189.1 625.7 191.6 626.2 195 C626.7 198.4 624.5 199.9 625 202.5 C625.5 205.1 628.3 204.3 628.8 207.5 C629.3 210.7 627.8 215.4 627.5 217.5"/>
    <path d="M626.2 171.2 C625.9 173 625.8 176.8 625 180 C624.2 183.2 623 184.9 622.5 186.2"/>
    <path d="M650 165 C651 166.6 653.7 168.8 655 172.5 C656.3 176.2 657.2 179.6 656.2 182.5 C655.2 185.4 649.7 184.6 650 186.2 C650.3 187.8 654.4 188.7 657.5 190 C660.6 191.3 662.4 192.5 665 192.5 C667.6 192.5 666.9 190.5 670 190 C673.1 189.5 675.8 190.3 680 190 C684.2 189.7 685.8 187.8 690 188.8 C694.2 189.9 695.3 193.2 700 195 C704.7 196.8 708.8 195.9 712.5 197.5 C716.2 199.1 717 199.1 717.5 202.5 C718 205.9 715.5 211.4 715 213.8"/>
    <path d="M650 186.2 C649.5 188.6 649.6 194.6 647.5 197.5 C645.4 200.4 643.9 199.2 640 200 C636.1 200.8 631.2 200.9 628.8 201.2"/>
    <path d="M647.5 197.5 C649.1 198.6 654 199.9 655 202.5 C656 205.1 653 208.4 652.5 210"/>
    <path d="M628.8 207.5 C631.2 207.5 636.1 206.4 640 207.5 C643.9 208.6 645.9 211.4 647.5 212.5"/>
    <path d="M676.2 157.5 C679.1 159.1 686.9 160.8 690 165 C693.1 169.2 691.2 172.5 691.2 177.5 C691.2 182.5 690.3 186.4 690 188.8"/>
    <path d="M691.2 177.5 C694.1 177.8 699 179.3 705 178.8 C711 178.3 714.8 175.3 720 175 C725.2 174.7 725.8 175.4 730 177.5 C734.2 179.6 735.3 182.4 740 185 C744.7 187.6 749.4 187.4 752.5 190 C755.6 192.6 754.5 195.9 755 197.5"/>
    <path d="M681.2 146.2 C684.1 146.7 690 147.5 695 148.8 C700 150.1 700.8 149.6 705 152.5 C709.2 155.4 711.9 157.8 715 162.5 C718.1 167.2 719 172.4 720 175"/>
    <path d="M690 165 C692.1 163.9 696.9 162.6 700 160 C703.1 157.4 704 154.1 705 152.5"/>
    <path d="M657.5 215 C659.1 213.9 661.3 211.6 665 210 C668.7 208.4 670.8 208 675 207.5 C679.2 207 681.9 211.4 685 207.5 C688.1 203.6 689 192.7 690 188.8"/>
    <path d="M685 207.5 C686 210.1 686.9 216.8 690 220 C693.1 223.2 695.3 222.5 700 222.5 C704.7 222.5 709.4 221.8 712.5 220 C715.6 218.2 714.5 215.1 715 213.8"/>
    <path d="M677.5 237.5 C680.1 236.4 685.3 232.5 690 232.5 C694.7 232.5 697.9 236.4 700 237.5"/>
    <path d="M690 220 L690 232.5"/>
    <path d="M597.5 221.2 C599.6 221.7 603.3 222.8 607.5 223.8 C611.7 224.9 615.4 225.7 617.5 226.2"/>
    <path d="M561.2 240 C562.5 239.5 565.7 240.7 567.5 237.5 C569.3 234.3 570.5 228.7 570 225 C569.5 221.3 566 221.1 565 220"/>
    <path d="M705 235 C707.1 237.6 709.8 243.8 715 247.5 C720.2 251.2 723.7 251.2 730 252.5 C736.3 253.8 738.7 253.8 745 253.8 C751.3 253.8 754.2 253.3 760 252.5 C765.8 251.7 768.3 252.1 772.5 250 C776.7 247.9 777.4 246.2 780 242.5 C782.6 238.8 784.5 236.7 785 232.5 C785.5 228.3 782 226.2 782.5 222.5 C783 218.8 789.1 217.6 787.5 215 C785.9 212.4 779.7 212.6 775 210 C770.3 207.4 769.5 205.7 765 202.5 C760.5 199.3 756.2 196.6 753.8 195"/>
    <path d="M785 232.5 C787.1 234.1 791.9 235.8 795 240 C798.1 244.2 799.5 247.2 800 252.5 C800.5 257.8 796.5 260.3 797.5 265 C798.5 269.7 800.8 270.8 805 275 C809.2 279.2 812.2 281.9 817.5 285 C822.8 288.1 827.4 288.9 830 290"/>
    <path d="M822.5 210 C826.2 208.2 829.2 207.8 835 208.8 C840.8 209.9 844.2 211.6 850 215 C855.8 218.4 857.2 220.8 862.5 225 C867.8 229.2 872.9 230.3 875 235 C877.1 239.7 875.6 243.8 872.5 247.5 C869.4 251.2 864.7 252.5 860 252.5 C855.3 252.5 854.2 249.6 850 247.5 C845.8 245.4 844.2 245.1 840 242.5 C835.8 239.9 834.2 238.2 830 235 C825.8 231.8 822.6 231.2 820 227.5 C817.4 223.8 817 221.2 817.5 217.5 C818 213.8 818.8 211.8 822.5 210 Z"/>
    <path d="M875 235 C877.1 233.4 880.3 230.1 885 227.5 C889.7 224.9 891.7 223 897.5 222.5 C903.3 222 907.8 226.1 912.5 225 C917.2 223.9 917.4 221.7 920 217.5 C922.6 213.3 921.9 210.8 925 205 C928.1 199.2 932.9 193.2 935 190"/>
    <path d="M872.5 247.5 C874.1 248.6 875.8 252 880 252.5 C884.2 253 888.3 252.1 892.5 250 C896.7 247.9 895.8 245.1 900 242.5 C904.2 239.9 908.3 240.7 912.5 237.5 C916.7 234.3 918.4 229.6 920 227.5"/>
    <path d="M892.5 250 C893 252.6 895.5 257.8 895 262.5 C894.5 267.2 894.2 269.9 890 272.5 C885.8 275.1 881.3 275 875 275 C868.7 275 864.7 275.1 860 272.5 C855.3 269.9 854.6 267.8 852.5 262.5 C850.4 257.2 850.5 250.7 850 247.5"/>
    <path d="M900 242.5 C902.6 244.6 907.2 248.3 912.5 252.5 C917.8 256.7 920.3 257.8 925 262.5 C929.7 267.2 929.8 269.8 935 275 C940.2 280.2 943.7 283.3 950 287.5 C956.3 291.7 958.7 292.9 965 295 C971.3 297.1 973.7 298 980 297.5 C986.3 297 988.7 292.5 995 292.5 C1001.3 292.5 1004.8 297 1010 297.5 C1015.2 298 1017.9 295.5 1020 295"/>
    <path d="M947.5 190 C950.1 192.6 954.2 197.8 960 202.5 C965.8 207.2 968.7 208.8 975 212.5 C981.3 216.2 983.2 217.4 990 220 C996.8 222.6 1001.2 223.4 1007.5 225 C1013.8 226.6 1017.4 227 1020 227.5"/>
    <path d="M845 110 C846 109 850 108.2 850 105 C850 101.8 847.1 98.7 845 95 C842.9 91.3 838.4 89.6 840 87.5 C841.6 85.4 847.8 86.3 852.5 85 C857.2 83.7 858.3 83 862.5 81.2 C866.7 79.4 867.8 78.3 872.5 76.2 C877.2 74.1 878.7 73 885 71.2 C891.3 69.4 895.1 68.3 902.5 67.5 C909.9 66.7 913.7 67 920 67.5 C926.3 68 927.8 68.7 932.5 70 C937.2 71.3 941.5 71.7 942.5 73.8 C943.5 75.9 937 78.4 937.5 80 C938 81.6 940.3 80.7 945 81.2 C949.7 81.7 956.9 82.2 960 82.5"/>
    <path d="M820 85 C821.6 84.7 824.4 82.8 827.5 83.8 C830.6 84.8 832.1 87.1 835 90 C837.9 92.9 839.1 93.3 841.2 97.5 C843.3 101.7 844.2 107.4 845 110"/>
    <path d="M820 177.5 C822.1 175.4 824.2 170.4 830 167.5 C835.8 164.6 840.7 164.9 847.5 163.8 C854.3 162.8 856.2 162.2 862.5 162.5 C868.8 162.8 870.7 161.8 877.5 165 C884.3 168.2 887.1 173.3 895 177.5 C902.9 181.7 907.1 181.8 915 185 C922.9 188.2 925.1 191.4 932.5 192.5 C939.9 193.6 942.1 192.1 950 190 C957.9 187.9 963.7 184.9 970 182.5 C976.3 180.1 974.8 178.8 980 178.8 C985.2 178.8 988.7 181.2 995 182.5 C1001.3 183.8 1003.2 183.9 1010 185 C1016.8 186.1 1020.1 186.7 1027.5 187.5 C1034.8 188.3 1039.2 190.9 1045 188.8 C1050.8 186.7 1051.8 180.9 1055 177.5 C1058.2 174.1 1059 173.6 1060 172.5"/>
    <path d="M942.5 195 C946.2 197.6 952.1 203.8 960 207.5 C967.9 211.2 972.6 209.9 980 212.5 C987.4 215.1 987.6 217.9 995 220 C1002.4 222.1 1006.6 222.5 1015 222.5 C1023.4 222.5 1027.7 222.6 1035 220 C1042.3 217.4 1043.2 213.2 1050 210 C1056.8 206.8 1065.4 208.2 1067.5 205 C1069.6 201.8 1064.7 198.4 1060 195 C1055.3 191.6 1048.2 190.1 1045 188.8"/>
    <path d="M820 210 C823.1 210.5 828.2 210.4 835 212.5 C841.8 214.6 845.1 217.9 852.5 220 C859.9 222.1 862.1 222.5 870 222.5 C877.9 222.5 882.6 219.5 890 220 C897.4 220.5 898.7 225 905 225 C911.3 225 915.8 223.7 920 220 C924.2 216.3 922.4 211.7 925 207.5 C927.6 203.3 928.8 202.6 932.5 200 C936.2 197.4 942.5 196.6 942.5 195 C942.5 193.4 934.6 193 932.5 192.5"/>
    <path d="M960 82.5 C965.2 82.2 977.1 80.7 985 81.2 C992.9 81.7 990.7 82.6 997.5 85 C1004.3 87.4 1008 92.5 1017.5 92.5 C1027 92.5 1032.5 86.3 1042.5 85 C1052.5 83.7 1056.1 84.9 1065 86.2 C1073.9 87.5 1076.6 89.6 1085 91.2 C1093.4 92.8 1098.2 92.5 1105 93.8 C1111.8 95.1 1111.2 96.5 1117.5 97.5 C1123.8 98.5 1127.7 98 1135 98.8 C1142.3 99.6 1148.8 101.7 1152.5 101.2 C1156.2 100.7 1148.3 96.7 1152.5 96.2 C1156.7 95.7 1163 97 1172.5 98.8 C1182 100.6 1188 102.6 1197.5 105 C1207 107.4 1209.6 108.2 1217.5 110 C1225.4 111.8 1231.1 111.7 1235 113.8 C1238.9 115.9 1238.3 119.2 1236.2 120 C1234.1 120.8 1230.5 118.3 1225 117.5 C1219.5 116.7 1213.7 115.4 1210 116.2 C1206.3 117 1205.4 119.9 1207.5 121.2 C1209.6 122.5 1216.8 120.9 1220 122.5 C1223.2 124.1 1224.6 126.7 1222.5 128.8 C1220.4 130.9 1215.2 130.7 1210 132.5 C1204.8 134.3 1202.8 135.4 1197.5 137.5 C1192.2 139.6 1187.9 140.4 1185 142.5 C1182.1 144.6 1181.7 145.4 1183.8 147.5 C1185.9 149.6 1192.1 149.9 1195 152.5 C1197.9 155.1 1196.5 156.3 1197.5 160 C1198.5 163.7 1199.7 165.8 1200 170 C1200.3 174.2 1200.4 179.5 1198.8 180 C1197.2 180.5 1195.4 175.7 1192.5 172.5 C1189.6 169.3 1188.2 167.6 1185 165 C1181.8 162.4 1180.7 162.6 1177.5 160 C1174.3 157.4 1171 156.2 1170 152.5 C1169 148.8 1171.5 146.2 1172.5 142.5 C1173.5 138.8 1175.5 137.6 1175 135 C1174.5 132.4 1171.6 130 1170 130 C1168.4 130 1169.6 134.5 1167.5 135 C1165.4 135.5 1163.7 132.5 1160 132.5 C1156.3 132.5 1153.2 132.9 1150 135 C1146.8 137.1 1148.7 140.9 1145 142.5 C1141.3 144.1 1137.8 142.2 1132.5 142.5 C1127.2 142.8 1124.7 143 1120 143.8 C1115.3 144.6 1113.2 144.4 1110 146.2 C1106.8 148 1106.3 149.1 1105 152.5 C1103.7 155.9 1102.8 159.9 1103.8 162.5 C1104.8 165.1 1106.6 164.2 1110 165 C1113.4 165.8 1115.8 165.4 1120 166.2 C1124.2 167 1126.8 167.8 1130 168.8 C1133.2 169.9 1132.9 168.3 1135 171.2 C1137.1 174.1 1138.2 178 1140 182.5 C1141.8 187 1143.3 187.8 1143.8 192.5 C1144.3 197.2 1143.3 200.3 1142.5 205 C1141.7 209.7 1141.6 211.3 1140 215 C1138.4 218.7 1138.2 221.4 1135 222.5 C1131.8 223.6 1127.6 222.6 1125 220 C1122.4 217.4 1122.5 213.7 1122.5 210 C1122.5 206.3 1125.5 205.1 1125 202.5 C1124.5 199.9 1121 198.6 1120 197.5"/>
    <path d="M1132.5 168.8 C1132 168.8 1136.8 173.6 1140 177.5 C1143.2 181.4 1144.3 183.3 1147.5 187.5 C1150.7 191.7 1152.4 193.8 1155 197.5 C1157.6 201.2 1159.5 204.5 1160 205 C1160.5 205.5 1159.6 203.7 1157.5 200 C1155.4 196.3 1153.2 192.2 1150 187.5 C1146.8 182.8 1146.2 181.4 1142.5 177.5 C1138.8 173.6 1133 168.8 1132.5 168.8 Z"/>
    <path d="M1162.5 211.2 C1164.1 210.4 1168.8 214.4 1172.5 216.2 C1176.2 218 1179 218.2 1180 220 C1181 221.8 1179.6 223.9 1177.5 225 C1175.4 226.1 1172.6 226.1 1170 225 C1167.4 223.9 1166.6 222.9 1165 220 C1163.4 217.1 1160.9 212 1162.5 211.2 Z"/>
    <path d="M1060 172.5 C1062.1 173 1065.8 173.4 1070 175 C1074.2 176.6 1075.8 177.4 1080 180 C1084.2 182.6 1085.3 184.6 1090 187.5 C1094.7 190.4 1097.2 191.7 1102.5 193.8 C1107.8 195.9 1110.5 195.7 1115 197.5 C1119.5 199.3 1121.7 199.9 1123.8 202.5 C1125.9 205.1 1125.8 206.3 1125 210 C1124.2 213.7 1123.2 215.8 1120 220 C1116.8 224.2 1114.2 226.8 1110 230 C1105.8 233.2 1104.2 233.9 1100 235 C1095.8 236.1 1092.1 235 1090 235"/>
    <path d="M1125 200 C1124 201.6 1120.5 204.3 1120 207.5 C1119.5 210.7 1121.7 211.3 1122.5 215 C1123.3 218.7 1123.3 220.8 1123.8 225 C1124.3 229.2 1123.7 231.3 1125 235 C1126.3 238.7 1127.9 239.3 1130 242.5 C1132.1 245.7 1133.7 246.3 1135 250 C1136.3 253.7 1137.2 257.4 1136.2 260 C1135.2 262.6 1132.4 263.6 1130 262.5 C1127.6 261.4 1126.8 258.7 1125 255 C1123.2 251.3 1123.3 249.2 1121.2 245 C1119.1 240.8 1118.4 237.6 1115 235 C1111.6 232.4 1109.2 232.5 1105 232.5 C1100.8 232.5 1098.2 235 1095 235 C1091.8 235 1092.6 231.4 1090 232.5 C1087.4 233.6 1084.3 237.4 1082.5 240 C1080.7 242.6 1079.6 243.4 1081.2 245 C1082.8 246.6 1086.6 246.4 1090 247.5 C1093.4 248.6 1094.9 248.9 1097.5 250 C1100.1 251.1 1102.8 250.4 1102.5 252.5 C1102.2 254.6 1097 256.9 1096.2 260 C1095.4 263.1 1097 264.6 1098.8 267.5 C1100.6 270.4 1102.6 271.2 1105 273.8 C1107.4 276.4 1108.4 277.1 1110 280 C1111.6 282.9 1111.7 283.8 1112.5 287.5 C1113.3 291.2 1114.3 293.3 1113.8 297.5 C1113.3 301.7 1111.8 303.3 1110 307.5 C1108.2 311.7 1108.2 313.8 1105 317.5 C1101.8 321.2 1099.2 322.4 1095 325 C1090.8 327.6 1089.2 328.4 1085 330 C1080.8 331.6 1079.2 331.7 1075 332.5 C1070.8 333.3 1068.2 334.3 1065 333.8 C1061.8 333.3 1062.1 329.5 1060 330 C1057.9 330.5 1055 333.1 1055 336.2 C1055 339.3 1057.9 341.1 1060 345 C1062.1 348.9 1064.5 350.8 1065 355 C1065.5 359.2 1064.6 360.8 1062.5 365 C1060.4 369.2 1058.2 371.9 1055 375 C1051.8 378.1 1049.1 378.9 1047.5 380"/>
    <path d="M1116.2 311.2 C1117.2 310.1 1119 310.7 1120 312.5 C1121 314.3 1121.7 317.6 1121.2 320 C1120.7 322.4 1118.8 324.3 1117.5 323.8 C1116.2 323.3 1115.3 320.1 1115 317.5 C1114.7 314.9 1115.2 312.2 1116.2 311.2 Z"/>
    <path d="M1162.5 212.5 C1164.1 210.9 1168.8 215.9 1172.5 217.5 C1176.2 219.1 1179.5 218.4 1180 220 C1180.5 221.6 1176.6 222.4 1175 225 C1173.4 227.6 1172 229.3 1172.5 232.5 C1173 235.7 1175.9 236.3 1177.5 240 C1179.1 243.7 1179.2 246.1 1180 250 C1180.8 253.9 1182.2 256.4 1181.2 258.8 C1180.2 261.2 1178.4 260.9 1175 261.2 C1171.6 261.5 1168.7 260 1165 260 C1161.3 260 1160.7 260.1 1157.5 261.2 C1154.3 262.2 1152.6 262.6 1150 265 C1147.4 267.4 1145 270.1 1145 272.5 C1145 274.9 1147.4 277 1150 276.2 C1152.6 275.4 1154.3 271 1157.5 268.8 C1160.7 266.6 1162.1 266.2 1165 265.5 C1167.9 264.8 1169.4 266.1 1171.2 265.5 C1173 264.9 1174.1 265.8 1173.8 262.5 C1173.5 259.2 1171.3 255.2 1170 250 C1168.7 244.8 1168.5 242.8 1167.5 237.5 C1166.5 232.2 1166 230.2 1165 225 C1164 219.8 1160.9 214.1 1162.5 212.5 Z"/>
    <path d="M566 262 C567.9 259.9 568.3 258.4 572 258 C575.7 257.6 579.6 260.4 583.8 260 C588 259.6 588.2 257.5 592 256 C595.8 254.5 597.2 254.1 602 253 C606.8 251.9 609.5 251.6 615 251 C620.5 250.4 623.8 250.2 628 250 C632.2 249.8 632.1 249.6 635 250 C637.9 250.4 640.3 249.5 642 252 C643.7 254.5 643.4 258.6 643 262 C642.6 265.4 639.6 265.9 640 268 C640.4 270.1 641.4 270.7 645 272 C648.6 273.3 651.8 272.3 657 274 C662.2 275.7 664.8 279.8 670 280 C675.2 280.2 676.8 276.7 682 275 C687.2 273.3 689.5 271.8 695 272 C700.5 272.2 702.8 274.3 708 276 C713.2 277.7 715.4 279.2 720 280 C724.6 280.8 725.8 279.6 730 280 C734.2 280.4 736.4 281.6 740 282 C743.6 282.4 744.5 280.9 747 282 C749.5 283.1 750.1 283.2 752 287 C753.9 290.8 753.9 294.1 756 300 C758.1 305.9 759.1 308.3 762 315 C764.9 321.7 766.6 325.1 770 332 C773.4 338.9 774.6 341.7 778 348 C781.4 354.3 782.6 357 786 362 C789.4 367 790.9 368.2 794 372 C797.1 375.8 797.2 378.7 801 380 C804.8 381.3 807.2 379.3 812 378 C816.8 376.7 819.6 375.3 824 374 C828.4 372.7 832.2 369.7 833 372 C833.8 374.3 830.7 379.5 828 385 C825.3 390.5 823.8 392.3 820 398 C816.2 403.7 814.2 406.3 810 412 C805.8 417.7 803.8 419.5 800 425 C796.2 430.5 794.9 432.3 792 438 C789.1 443.7 788.1 445.7 786 452 C783.9 458.3 783.7 461.7 782 468 C780.3 474.3 779.7 475.9 778 482 C776.3 488.1 775.3 490.7 774 497 C772.7 503.3 773.7 506.3 772 512 C770.3 517.7 768.9 519.2 766 524 C763.1 528.8 761.4 530 758 535 C754.6 540 752.9 542.8 750 548 C747.1 553.2 746.7 555 744 560 C741.3 565 740.4 566.8 737 572 C733.6 577.2 731.8 580.4 728 585 C724.2 589.6 723.4 590.4 719 594 C714.6 597.6 712 599.5 707 602 C702 604.5 700.2 604.7 695 606 C689.8 607.3 685.7 607.4 682 608 C678.3 608.6 679.2 610 677.5 608.8 C675.8 607.6 675.4 605.9 673.8 602.5 C672.2 599.1 671 597 670 592.5 C669 588 669.8 584.7 668.8 581 C667.8 577.3 666.3 576.8 665 575 C663.7 573.2 663.5 575.1 662.5 572.5 C661.5 569.9 661 566.7 660 562.5 C659 558.3 658.8 556.7 657.5 552.5 C656.2 548.3 655.6 546.7 654 542.5 C652.4 538.3 651.4 536.7 650 532.5 C648.6 528.3 647.7 526.7 647.5 522.5 C647.3 518.3 648 516.7 649 512.5 C650 508.3 651 506.2 652.5 502.5 C654 498.8 655.5 498.7 656 495 C656.5 491.3 656 489.2 655 485 C654 480.8 652 479 651 475 C650 471 650.7 469.7 650 466 C649.3 462.3 649.1 460.9 647.5 457.5 C645.9 454.1 644.9 453.1 642.5 450 C640.1 446.9 637.6 446.2 636 442.5 C634.4 438.8 635 436.7 635 432.5 C635 428.3 636.5 426.4 636 422.5 C635.5 418.6 635.3 416.1 632.5 414 C629.7 411.9 627.2 414.4 622.5 412.5 C617.8 410.6 614.7 407.6 610 405 C605.3 402.4 604.6 400.6 600 400 C595.4 399.4 593.2 401.2 588 402 C582.8 402.8 580.5 404 575 404 C569.5 404 566.8 403.3 562 402 C557.2 400.7 555.6 400.5 552 398 C548.4 395.5 547.5 393.8 545 390 C542.5 386.2 541.9 384.6 540 380 C538.1 375.4 536.6 373.2 536 368 C535.4 362.8 536.2 360.5 537 355 C537.8 349.5 538.5 347.2 540 342 C541.5 336.8 542.3 335 544 330 C545.7 325 546.3 323.2 548 318 C549.7 312.8 550.3 310.5 552 305 C553.7 299.5 554.3 297.7 556 292 C557.7 286.3 558.5 283 560 278 C561.5 273 561.7 271.4 563 268 C564.3 264.6 564.1 264.1 566 262 Z"/>
    <path d="M784 545 C786.1 540.8 787.7 539.4 790 540 C792.3 540.6 793.5 543.8 795 548 C796.5 552.2 797.4 554.3 797 560 C796.6 565.7 794.9 569.1 793 575 C791.1 580.9 790.3 583.6 788 588 C785.7 592.4 784.3 595.6 782 596 C779.7 596.4 778 594.4 777 590 C776 585.6 776.4 581.3 777 575 C777.6 568.7 778.5 566.3 780 560 C781.5 553.7 781.9 549.2 784 545 Z"/>
    <path d="M630 251.2 C630.5 254.1 631.2 258.4 632.5 265 C633.8 271.6 635.2 275.7 636.2 282.5 C637.2 289.3 636.7 291.7 637.5 297.5 C638.3 303.3 637.9 305.5 640 310 C642.1 314.5 643.3 316.2 647.5 318.8 C651.7 321.4 656.3 319.1 660 322.5 C663.7 325.9 664.2 329.8 665 335 C665.8 340.2 664.8 342.2 663.8 347.5 C662.8 352.8 661.8 355.3 660 360 C658.2 364.7 655.5 365.8 655 370 C654.5 374.2 655.9 375.8 657.5 380 C659.1 384.2 661.5 387.9 662.5 390"/>
    <path d="M643.8 262.5 C642.8 264.6 638.5 270.1 638.8 272.5 C639.1 274.9 644.7 272 645 273.8 C645.3 275.6 641.6 276.2 640 281.2 C638.4 286.2 638 294.1 637.5 297.5"/>
    <path d="M647.5 318.8 C644.9 320.6 640.2 323.8 635 327.5 C629.8 331.2 627 333.3 622.5 336.2 C618 339.1 615.9 338.3 613.8 341.2 C611.7 344.1 612.5 346.1 612.5 350 C612.5 353.9 613.3 356.3 613.8 360 C614.3 363.7 612.6 365.4 615 367.5 C617.4 369.6 620.3 369.2 625 370 C629.7 370.8 632.8 371.5 637.5 371.2 C642.2 370.9 643.8 369.1 647.5 368.8 C651.2 368.5 653.4 369.7 655 370"/>
    <path d="M570 310 C574.2 313.1 580.8 318.4 590 325 C599.2 331.6 608.8 337.8 613.8 341.2"/>
    <path d="M540 297.5 C543.7 298 553.6 297.4 557.5 300 C561.4 302.6 556.2 307.9 558.8 310 C561.4 312.1 567.6 310 570 310"/>
    <path d="M615 367.5 C614 370.1 610.5 374.2 610 380 C609.5 385.8 610.4 388.7 612.5 395 C614.6 401.3 615.8 405.8 620 410 C624.2 414.2 628.8 416.6 632.5 415 C636.2 413.4 633.8 405.6 637.5 402.5 C641.2 399.4 645.8 402.6 650 400 C654.2 397.4 655.9 392.1 657.5 390"/>
    <path d="M575 370 C577.1 368.4 580.3 363.6 585 362.5 C589.7 361.4 592.8 363.4 597.5 365 C602.2 366.6 604.9 366.9 607.5 370 C610.1 373.1 609.5 377.9 610 380"/>
    <path d="M575 370 C575.5 373.1 575.9 378.7 577.5 385 C579.1 391.3 579.9 394.2 582.5 400 C585.1 405.8 586.3 410.9 590 412.5 C593.7 414.1 597.4 411.7 600 407.5 C602.6 403.3 602.5 398.3 602.5 392.5 C602.5 386.7 601 385.8 600 380 C599 374.2 598 368.1 597.5 365"/>
    <path d="M540 360 C542.6 359.5 547.2 356.4 552.5 357.5 C557.8 358.6 560.3 362.4 565 365 C569.7 367.6 572.9 368.9 575 370"/>
    <path d="M660 322.5 C664.2 324.6 671.6 328.8 680 332.5 C688.4 336.2 695.8 343.7 700 340 C704.2 336.3 700 325.5 700 315 C700 304.5 700 295.2 700 290"/>
    <path d="M700 340 C703.1 341.1 708.7 342.4 715 345 C721.3 347.6 726.9 350.9 730 352.5"/>
    <path d="M636.2 425 C638.6 425 643 425.3 647.5 425 C652 424.7 653.8 423.8 657.5 423.8 C661.2 423.8 663.4 424.7 665 425"/>
    <path d="M655 425 C655.5 427.1 657.2 430.8 657.5 435 C657.8 439.2 658.3 441.9 656.2 445 C654.1 448.1 649.3 448.9 647.5 450"/>
    <path d="M650 466.2 C653.1 466.1 660.8 464.2 665 465.5 C669.2 466.8 666.9 470.5 670 472.5 C673.1 474.5 676.3 475 680 475 C683.7 475 684.9 470.9 687.5 472.5 C690.1 474.1 690.4 478.3 692.5 482.5 C694.6 486.7 693.8 489.9 697.5 492.5 C701.2 495.1 705.3 493.4 710 495 C714.7 496.6 716.9 496.9 720 500 C723.1 503.1 721.9 508.4 725 510 C728.1 511.6 732.9 508 735 507.5"/>
    <path d="M647.5 522.5 C652.2 522.8 661.1 523.8 670 523.8 C678.9 523.8 683.7 523.3 690 522.5 C696.3 521.7 694.8 521.6 700 520 C705.2 518.4 707.6 517.6 715 515 C722.4 512.4 730.8 509.1 735 507.5"/>
    <path d="M665 425 C667.1 422.9 669.8 417.6 675 415 C680.2 412.4 683.7 412 690 412.5 C696.3 413 699.8 417.5 705 417.5 C710.2 417.5 712.9 413.6 715 412.5"/>
    <path d="M668.8 580 C671.2 579.7 676.9 581.9 680 578.8 C683.1 575.6 683.3 571 683.8 565 C684.3 559 682.2 555.2 682.5 550 C682.8 544.8 684.5 542.1 685 540"/>
    <path d="M687.5 570 C689.1 569 691.3 566 695 565 C698.7 564 700.8 567.1 705 565 C709.2 562.9 710.8 558.1 715 555 C719.2 551.9 720.8 550 725 550 C729.2 550 732.4 551.9 735 555 C737.6 558.1 737 562.9 737.5 565"/>
    <path d="M712.5 583.8 C713.3 582 715.7 580 717.5 580 C719.3 580 720.9 582 721.2 583.8 C721.5 585.6 720.4 587.8 718.8 588.8 C717.2 589.8 715.1 589.8 713.8 588.8 C712.5 587.8 711.7 585.6 712.5 583.8 Z"/>
    <path d="M752 287 C753.7 288.1 757.3 288.2 760 292 C762.7 295.8 765.6 303.3 765 305 C764.4 306.7 758.7 301.1 757 300"/>
    <path d="M747.5 262 C748 264.7 749.1 269.8 750 275 C750.9 280.2 749.5 283.9 752 287 C754.5 290.1 757.2 288.1 762 290 C766.8 291.9 769.1 293.9 775 296 C780.9 298.1 784.8 300 790 300 C795.2 300 795.4 294.9 800 296 C804.6 297.1 807.4 300.4 812 305 C816.6 309.6 818.2 312.8 822 318 C825.8 323.2 825.8 326.2 830 330 C834.2 333.8 837.4 333.5 842 336 C846.6 338.5 850.7 338.6 852 342 C853.3 345.4 850.9 347.8 848 352 C845.1 356.2 843 358.2 838 362 C833 365.8 829.5 366.6 824 370 C818.5 373.4 814.5 376.3 812 378"/>
    <path d="M800 296 C801.3 293.7 802.9 286.3 806 285 C809.1 283.7 810.4 286.9 815 290 C819.6 293.1 822.3 296.2 828 300 C833.7 303.8 835.7 305.5 842 308 C848.3 310.5 851.7 310.3 858 312 C864.3 313.7 866.5 313.9 872 316 C877.5 318.1 879.8 318.6 884 322 C888.2 325.4 889.1 327.2 892 332 C894.9 336.8 895.3 339.1 898 345 C900.7 350.9 902.1 353.1 905 360 C907.9 366.9 908.9 370.6 912 378 C915.1 385.4 916.9 388.7 920 395 C923.1 401.3 924.3 408 927 408 C929.7 408 930.7 401.3 933 395 C935.3 388.7 935.5 384.9 938 378 C940.5 371.1 941.4 368.3 945 362 C948.6 355.7 950.6 353 955 348 C959.4 343 961.8 341.4 966 338 C970.2 334.6 971.6 331.6 975 332 C978.4 332.4 979.3 335.8 982 340 C984.7 344.2 985.5 346.5 988 352 C990.5 357.5 991.5 360.1 994 366 C996.5 371.9 997.9 373.9 1000 380 C1002.1 386.1 1002.3 388.7 1004 395 C1005.7 401.3 1006.3 403.7 1008 410 C1009.7 416.3 1009.9 418.7 1012 425 C1014.1 431.3 1015.9 434.3 1018 440 C1020.1 445.7 1020.3 452 1022 452 C1023.7 452 1025.6 445.7 1026 440 C1026.4 434.3 1025.3 431.3 1024 425 C1022.7 418.7 1021.3 416.3 1020 410 C1018.7 403.7 1017.2 400.2 1018 395 C1018.8 389.8 1021.1 385.6 1024 385 C1026.9 384.4 1028.6 388.4 1032 392 C1035.4 395.6 1036.6 401.4 1040 402 C1043.4 402.6 1045.5 399.6 1048 395 C1050.5 390.4 1052 386.3 1052 380 C1052 373.7 1050.1 370.9 1048 365 C1045.9 359.1 1042.1 348.9 1042 352 C1041.9 355.1 1046.3 374.1 1047.5 380"/>
    <path d="M930 415 C931.5 413.3 934.2 416.9 935 420 C935.8 423.1 935.5 428.3 934 430 C932.5 431.7 928.8 431.1 928 428 C927.2 424.9 928.5 416.7 930 415 Z"/>
    <path d="M1010 440 C1012.1 440 1016.5 446.5 1022 452 C1027.5 457.5 1030.1 460.1 1036 466 C1041.9 471.9 1045.4 475 1050 480 C1054.6 485 1058 487.5 1058 490 C1058 492.5 1054.6 494.1 1050 492 C1045.4 489.9 1041.9 485.5 1036 480 C1030.1 474.5 1027 471.9 1022 466 C1017 460.1 1014.5 457.5 1012 452 C1009.5 446.5 1007.9 440 1010 440 Z"/>
    <path d="M1062 495 C1065.8 494.6 1072 496.5 1080 498 C1088 499.5 1092 500.3 1100 502 C1108 503.7 1114.6 504.3 1118 506 C1121.4 507.7 1120.2 509.6 1116 510 C1111.8 510.4 1106 509.3 1098 508 C1090 506.7 1085.6 505.7 1078 504 C1070.4 502.3 1065.4 501.9 1062 500 C1058.6 498.1 1058.2 495.4 1062 495 Z"/>
    <path d="M1070 440 C1072.7 434.8 1078.3 432.5 1085 430 C1091.7 427.5 1097.2 425.9 1102 428 C1106.8 430.1 1107.6 433.7 1108 440 C1108.4 446.3 1106.7 451.7 1104 458 C1101.3 464.3 1100 467.9 1095 470 C1090 472.1 1084.8 471.1 1080 468 C1075.2 464.9 1074.1 460.9 1072 455 C1069.9 449.1 1067.3 445.2 1070 440 Z"/>
    <path d="M1118 450 C1119.3 445.4 1121.8 441.3 1126 440 C1130.2 438.7 1137.2 440.9 1138 444 C1138.8 447.1 1130.4 449.5 1130 455 C1129.6 460.5 1136.8 466.4 1136 470 C1135.2 473.6 1129.4 473.7 1126 472 C1122.6 470.3 1121.7 466.6 1120 462 C1118.3 457.4 1116.7 454.6 1118 450 Z"/>
    <path d="M1118 385 C1119.7 378.7 1123.5 377.9 1126 380 C1128.5 382.1 1130.4 389.1 1130 395 C1129.6 400.9 1124 402.8 1124 408 C1124 413.2 1126.6 415.8 1130 420 C1133.4 424.2 1139.2 425.1 1140 428 C1140.8 430.9 1137.4 434.8 1134 434 C1130.6 433.2 1127.4 429 1124 424 C1120.6 419 1119.3 418.2 1118 410 C1116.7 401.8 1116.3 391.3 1118 385 Z"/>
    <path d="M1177.5 442.5 C1179.6 439.9 1185.3 439.2 1190 440 C1194.7 440.8 1195.3 444.1 1200 446.2 C1204.7 448.3 1207.2 448.2 1212.5 450 C1217.8 451.8 1219.8 452.4 1225 455 C1230.2 457.6 1232.2 459.4 1237.5 462.5 C1242.8 465.6 1245.3 466.3 1250 470 C1254.7 473.7 1259 476.9 1260 480 C1261 483.1 1258.7 485 1255 485 C1251.3 485 1247.8 481.6 1242.5 480 C1237.2 478.4 1234.7 477.5 1230 477.5 C1225.3 477.5 1224.2 480.5 1220 480 C1215.8 479.5 1214.2 478.1 1210 475 C1205.8 471.9 1204.2 468.1 1200 465 C1195.8 461.9 1194.2 462.6 1190 460 C1185.8 457.4 1182.6 456.2 1180 452.5 C1177.4 448.8 1175.4 445.1 1177.5 442.5 Z"/>
    <path d="M1090 545 C1087.6 547.6 1085.4 550.8 1083.8 555 C1082.2 559.2 1083.3 560.8 1082.5 565 C1081.7 569.2 1079.7 570.8 1080 575 C1080.3 579.2 1082.8 580.8 1083.8 585 C1084.8 589.2 1085.3 590.8 1085 595 C1084.7 599.2 1083.8 602.1 1082.5 605 C1081.2 607.9 1078.3 607.5 1078.8 608.8 C1079.3 610.1 1081.6 611.2 1085 611.2 C1088.4 611.2 1090.8 610.1 1095 608.8 C1099.2 607.5 1100.8 606.6 1105 605 C1109.2 603.4 1110.8 602.8 1115 601.2 C1119.2 599.6 1120.8 598.8 1125 597.5 C1129.2 596.2 1130.3 595.8 1135 595 C1139.7 594.2 1142.8 593.3 1147.5 593.8 C1152.2 594.3 1153.8 595.1 1157.5 597.5 C1161.2 599.9 1162.1 602.6 1165 605 C1167.9 607.4 1169.4 609.3 1171.2 608.8 C1173 608.3 1173 602.2 1173.8 602.5 C1174.6 602.8 1175.3 606.9 1175 610 C1174.7 613.1 1172 614.4 1172.5 617.5 C1173 620.6 1174.3 622.6 1177.5 625 C1180.7 627.4 1183.3 627.8 1187.5 628.8 C1191.7 629.8 1193.3 630.3 1197.5 630 C1201.7 629.7 1203.3 629.6 1207.5 627.5 C1211.7 625.4 1213.8 623.1 1217.5 620 C1221.2 616.9 1221.8 616.2 1225 612.5 C1228.2 608.8 1229.3 606.7 1232.5 602.5 C1235.7 598.3 1236.8 596.7 1240 592.5 C1243.2 588.3 1245.1 586.7 1247.5 582.5 C1249.9 578.3 1250.2 576.7 1251.2 572.5 C1252.2 568.3 1253.3 566.7 1252.5 562.5 C1251.7 558.3 1249.1 556.7 1247.5 552.5 C1245.9 548.3 1246.6 546.2 1245 542.5 C1243.4 538.8 1242.1 538.7 1240 535 C1237.9 531.3 1236.8 529.2 1235 525 C1233.2 520.8 1232.8 519.2 1231.2 515 C1229.6 510.8 1229.1 509.5 1227.5 505 C1225.9 500.5 1225.1 496.7 1223.8 493.8 C1222.5 490.9 1222.5 489.9 1221.2 491.2 C1219.9 492.5 1219.1 496.1 1217.5 500 C1215.9 503.9 1215.4 506.3 1213.8 510 C1212.2 513.7 1211.8 515.1 1210 517.5 C1208.2 519.9 1207.6 521.2 1205 521.2 C1202.4 521.2 1200.4 519.9 1197.5 517.5 C1194.6 515.1 1192.2 513.1 1191.2 510 C1190.2 506.9 1191.7 505.1 1192.5 502.5 C1193.3 499.9 1196.6 499.1 1195 497.5 C1193.4 495.9 1188.7 495.8 1185 495 C1181.3 494.2 1180.1 493.3 1177.5 493.8 C1174.9 494.3 1175.1 496.2 1172.5 497.5 C1169.9 498.8 1167.6 497.9 1165 500 C1162.4 502.1 1163.2 505.4 1160 507.5 C1156.8 509.6 1153.7 508.9 1150 510 C1146.3 511.1 1145.7 510.9 1142.5 512.5 C1139.3 514.1 1137.6 515.4 1135 517.5 C1132.4 519.6 1132.6 520.9 1130 522.5 C1127.4 524.1 1125.7 522.9 1122.5 525 C1119.3 527.1 1118.7 529.6 1115 532.5 C1111.3 535.4 1109.2 536.7 1105 538.8 C1100.8 540.9 1098.2 541.2 1095 542.5 C1091.8 543.8 1092.4 542.4 1090 545 Z"/>
    <path d="M1183.8 645 C1185.4 642.9 1186.8 642 1190 641.2 C1193.2 640.4 1197.2 639.9 1198.8 641.2 C1200.4 642.5 1198.8 645.1 1197.5 647.5 C1196.2 649.9 1194.9 650.9 1192.5 652.5 C1190.1 654.1 1188.3 655.3 1186.2 655 C1184.1 654.7 1183 653.3 1182.5 651.2 C1182 649.1 1182.2 647.1 1183.8 645 Z"/>
  </svg>

  <div id="panelL" class="abs"></div>
  <div id="panelR" class="abs"></div>

  <!-- logo icon -->
  <svg class="abs" style="left:1036px;top:28px" width="44" height="44" viewBox="1036 28 44 44">
    <circle cx="1057.6" cy="49.3" r="13.4" fill="none" stroke="#5a7e99" stroke-width="3.4"/>
    <path d="M1042.5 49.5 L1045.9 49.5 L1049.6 58.8 L1042.7 63.6 Z" fill="#5a7e99"/>
    <rect x="1048.5" y="52.3" width="3.8" height="7.2" fill="#27a6c6"/>
    <rect x="1054.2" y="44.5" width="4.6" height="15" fill="#27a6c6"/>
    <rect x="1060.9" y="39" width="4.2" height="22.5" fill="#5a7e99"/>
  </svg>

  <!-- left chart frame, gridlines and bars -->
  <div id="boxL" class="abs box"></div>
  <div class="grid" style="top:298px"></div><div class="grid" style="top:345px"></div><div class="grid" style="top:392px"></div><div class="grid" style="top:439px"></div><div class="grid" style="top:487px"></div><div class="grid" style="top:534px"></div>
  <div class="bar" style="left:139px;top:519px;width:75px;height:15px;background:#bf8f04"></div>
  <div class="bar" style="left:291px;top:487px;width:75px;height:47px;background:#33a3a3"></div>
  <div class="bar" style="left:443px;top:352px;width:75px;height:182px;background:#0581b4"></div>

  <!-- right chart frame, bars and legend markers -->
  <div id="boxR" class="abs box"></div>
  <div class="bar" style="left:713px;top:301px;width:315px;height:20px;background:#68d1fb"></div>
  <div class="bar" style="left:713px;top:336.4px;width:409px;height:20px;background:#173d4d"></div>
  <div class="bar" style="left:713px;top:371.8px;width:401px;height:20px;background:#bf8f04"></div>
  <div class="bar" style="left:713px;top:407.2px;width:378px;height:20px;background:#0581b4"></div>
  <div class="bar" style="left:713px;top:442.6px;width:383.5px;height:20px;background:#33a3a3"></div>
  <div class="bar" style="left:713px;top:478px;width:374.5px;height:20px;background:#327a9c"></div>
  <div class="lm" style="left:736.1px;background:#327a9c"></div>
  <div class="lm" style="left:840.2px;background:#33a3a3"></div>
  <div class="lm" style="left:900.2px;background:#0581b4"></div>
  <div class="lm" style="left:986.1px;background:#bf8f04"></div>
  <div class="lm" style="left:1086.7px;background:#173d4d"></div>
  <div class="lm" style="left:1171.5px;background:#68d1fb"></div>

  <!-- Slide title -->
  <h1 class="g">
    <span class="t ttl" style="left:8.79px;top:13.05px;font-size:46px;color:#404040;transform:scaleX(0.9776);font-weight:bold;font-style:italic;">Global</span>
    <span class="t ttl" style="left:162.25px;top:13.05px;font-size:46px;color:#404040;transform:scaleX(0.9195);font-weight:bold;font-style:italic;">3D</span>
    <span class="t ttl" style="left:227.30px;top:13.05px;font-size:46px;color:#404040;transform:scaleX(0.8592);font-weight:bold;font-style:italic;">Printing</span>
    <span class="t ttl" style="left:389.23px;top:13.05px;font-size:46px;color:#404040;transform:scaleX(0.9337);font-weight:bold;font-style:italic;">Composites</span>
    <span class="t ttl" style="left:645.70px;top:13.05px;font-size:46px;color:#404040;transform:scaleX(0.9829);font-weight:bold;font-style:italic;">Market</span>
    <span class="t ttl" style="left:804.61px;top:13.05px;font-size:46px;color:#404040;transform:scaleX(0.9060);font-weight:bold;font-style:italic;">2018</span>
    <span class="t ttl" style="left:908.88px;top:13.05px;font-size:46px;color:#404040;transform:scaleX(0.9245);font-weight:bold;font-style:italic;">to</span>
    <span class="t ttl" style="left:963.21px;top:13.05px;font-size:46px;color:#404040;transform:scaleX(0.9060);font-weight:bold;font-style:italic;">2032</span>
  </h1>
  <!-- Brand -->
  <div class="g">
    <span class="t" style="left:1078.30px;top:34.62px;font-size:18.4px;color:#3bb0c9;transform:scaleX(1.0275);">Credence</span>
    <span class="t" style="left:1166.38px;top:34.62px;font-size:18.4px;color:#5f7484;transform:scaleX(1.0222);">Research</span>
    <span class="t" style="left:1078.5px;top:57.2px;font-size:5px;font-weight:bold;color:#4d565e;letter-spacing:3.48px;">Actionable Insights Delivered</span>
  </div>
  <!-- Left chart title -->
  <h2 class="g">
    <span class="t" style="left:150.80px;top:153.91px;font-size:17px;color:#202020;transform:scaleX(1.0400);">Global</span>
    <span class="t" style="left:207.16px;top:153.91px;font-size:17px;color:#202020;transform:scaleX(1.0443);">Market</span>
    <span class="t" style="left:264.20px;top:153.91px;font-size:17px;color:#202020;transform:scaleX(0.8875);">Size,</span>
    <span class="t" style="left:303.60px;top:153.91px;font-size:17px;color:#202020;transform:scaleX(0.9302);">2018,</span>
    <span class="t" style="left:348.70px;top:153.91px;font-size:17px;color:#202020;transform:scaleX(0.9326);">2024,</span>
    <span class="t" style="left:392.80px;top:153.91px;font-size:17px;color:#202020;transform:scaleX(1.0857);">and</span>
    <span class="t" style="left:428.30px;top:153.91px;font-size:17px;color:#202020;transform:scaleX(0.9126);">2032</span>
  </h2>
  <!-- Left chart unit -->
  <h3 class="g">
    <span class="t" style="left:243.80px;top:178.24px;font-size:19.2px;color:#0d0d0d;transform:scaleX(0.9927);font-weight:bold;">(USD</span>
    <span class="t" style="left:296.82px;top:178.24px;font-size:19.2px;color:#0d0d0d;transform:scaleX(1.0844);font-weight:bold;">Million)</span>
  </h3>
  <!-- Y axis labels -->
  <div class="g">
    <span class="t" style="left:46.60px;top:291.53px;font-size:12.6px;color:#595959;transform:scaleX(0.9521);">2,500.0</span>
    <span class="t" style="left:46.60px;top:338.53px;font-size:12.6px;color:#595959;transform:scaleX(0.9521);">2,000.0</span>
    <span class="t" style="left:47.60px;top:385.53px;font-size:12.6px;color:#595959;transform:scaleX(0.9283);">1,500.0</span>
    <span class="t" style="left:47.60px;top:432.63px;font-size:12.6px;color:#595959;transform:scaleX(0.9283);">1,000.0</span>
    <span class="t" style="left:56.60px;top:480.03px;font-size:12.6px;color:#595959;transform:scaleX(0.9520);">500.0</span>
    <span class="t" style="left:75.80px;top:527.03px;font-size:12.6px;color:#595959;transform:scaleX(0.9000);">-</span>
  </div>
  <!-- Column data labels -->
  <div class="g">
    <span class="t" style="left:163.60px;top:499.53px;font-size:12.6px;color:#404040;transform:scaleX(0.9044);">164.9</span>
    <span class="t" style="left:314.60px;top:467.53px;font-size:12.6px;color:#404040;transform:scaleX(0.8981);">504.1</span>
    <span class="t" style="left:462.20px;top:331.93px;font-size:12.6px;color:#404040;transform:scaleX(0.8997);">1,932.1</span>
  </div>
  <!-- X axis labels -->
  <div class="g">
    <span class="t" style="left:166.70px;top:542.02px;font-size:8.6px;color:#333;transform:scaleX(1.0497);">2018</span>
    <span class="t" style="left:318.90px;top:542.02px;font-size:8.6px;color:#333;transform:scaleX(1.0394);">2024</span>
    <span class="t" style="left:470.60px;top:542.02px;font-size:8.6px;color:#333;transform:scaleX(1.0549);">2032</span>
  </div>
  <!-- Right chart title -->
  <h2 class="g">
    <span class="t" style="left:871.70px;top:156.60px;font-size:19.6px;color:#0d0d0d;transform:scaleX(1.0462);font-weight:bold;">CAGR</span>
    <span class="t" style="left:940.15px;top:156.60px;font-size:19.6px;color:#0d0d0d;transform:scaleX(1.0469);font-weight:bold;">by</span>
    <span class="t" style="left:973.08px;top:156.60px;font-size:19.6px;color:#0d0d0d;transform:scaleX(1.0214);font-weight:bold;">Region,</span>
    <span class="t" style="left:1055.90px;top:156.60px;font-size:19.6px;color:#0d0d0d;transform:scaleX(1.0529);font-weight:bold;">%</span>
  </h2>
  <!-- Bar data labels -->
  <div class="g">
    <span class="t" style="left:1035.50px;top:305.93px;font-size:12.6px;color:#404040;transform:scaleX(0.9096);">15.1%</span>
    <span class="t" style="left:1131.10px;top:341.23px;font-size:12.6px;color:#404040;transform:scaleX(0.8955);">19.7%</span>
    <span class="t" style="left:1122.20px;top:376.53px;font-size:12.6px;color:#404040;transform:scaleX(0.8899);">19.2%</span>
    <span class="t" style="left:1100.00px;top:411.93px;font-size:12.6px;color:#404040;transform:scaleX(0.9068);">18.2%</span>
    <span class="t" style="left:1105.00px;top:447.33px;font-size:12.6px;color:#404040;transform:scaleX(0.9096);">18.4%</span>
    <span class="t" style="left:1096.00px;top:482.73px;font-size:12.6px;color:#404040;transform:scaleX(0.9152);">18.0%</span>
  </div>
  <!-- Legend -->
  <div class="g">
    <span class="t" style="left:744.82px;top:524.75px;font-size:12.7px;color:#404040;transform:scaleX(0.9777);">North</span>
    <span class="t" style="left:781.20px;top:524.75px;font-size:12.7px;color:#404040;transform:scaleX(1.0174);">America</span>
    <span class="t" style="left:848.39px;top:524.75px;font-size:12.7px;color:#404040;transform:scaleX(1.0061);">Europe</span>
    <span class="t" style="left:909.80px;top:524.75px;font-size:12.7px;color:#404040;transform:scaleX(0.8702);">Asia</span>
    <span class="t" style="left:936.17px;top:524.75px;font-size:12.7px;color:#404040;transform:scaleX(1.0317);">Pacific</span>
    <span class="t" style="left:994.82px;top:524.75px;font-size:12.7px;color:#404040;transform:scaleX(0.9752);">Latin</span>
    <span class="t" style="left:1027.10px;top:524.75px;font-size:12.7px;color:#404040;transform:scaleX(1.0111);">America</span>
    <span class="t" style="left:1094.76px;top:524.75px;font-size:12.7px;color:#404040;transform:scaleX(1.0353);">Middle</span>
    <span class="t" style="left:1137.46px;top:524.75px;font-size:12.7px;color:#404040;transform:scaleX(0.9412);">East</span>
    <span class="t" style="left:1181.10px;top:524.75px;font-size:12.7px;color:#404040;transform:scaleX(0.9618);">Africa</span>
  </div>
</body>
</html>
